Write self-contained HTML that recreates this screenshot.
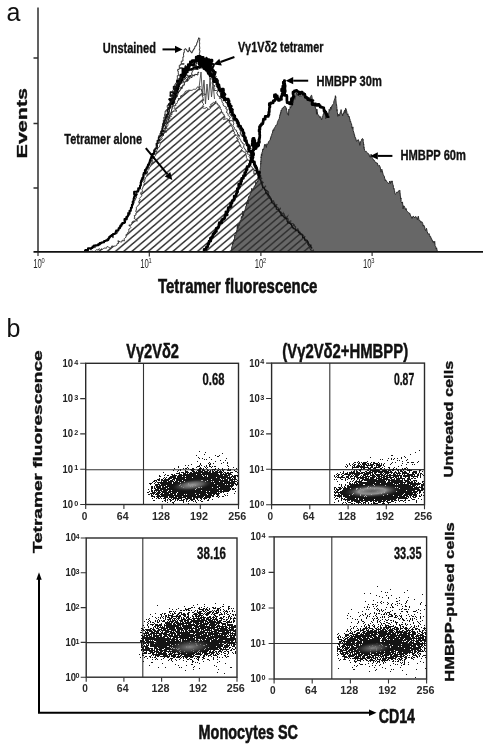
<!DOCTYPE html>
<html><head><meta charset="utf-8"><style>
html,body{margin:0;padding:0;background:#fff;}
svg{display:block;filter:blur(0.35px);}
text{font-family:"Liberation Sans",sans-serif;}
</style></head><body>
<svg width="489" height="747" viewBox="0 0 489 747" shape-rendering="auto">
<rect width="489" height="747" fill="#fff"/>
<defs>
<pattern id="hatch" patternUnits="userSpaceOnUse" width="8.2" height="7" x="0" y="0"><path d="M-2,8.71 L10.2,-1.71" stroke="#2e2e2e" stroke-width="1.4" fill="none"/><path d="M-10.2,8.71 L2,-1.71 M6.2,8.71 L18.4,-1.71" stroke="#2e2e2e" stroke-width="1.4" fill="none"/></pattern>
<clipPath id="hclip"><polygon points="91.0,251.5 92.2,251.2 93.6,251.5 94.7,251.4 95.7,250.4 96.7,249.6 98.1,250.1 99.0,248.6 100.5,249.7 101.5,248.8 102.8,249.3 103.8,248.3 105.0,247.9 106.3,248.4 107.2,246.4 108.6,247.2 110.0,248.1 111.2,247.8 111.8,245.9 113.3,246.3 114.5,246.0 115.8,245.9 116.8,245.3 117.3,243.5 118.6,243.5 117.9,240.7 120.5,241.9 122.0,241.9 122.1,240.2 124.4,241.0 124.1,238.8 125.0,237.9 126.1,237.2 126.0,235.8 126.1,234.4 127.8,234.0 127.7,232.5 128.6,231.6 128.8,230.4 128.8,229.1 130.2,228.4 130.9,227.4 128.8,225.0 131.4,225.0 131.8,223.8 131.8,222.6 132.4,221.5 134.2,220.9 137.5,220.8 133.9,218.2 135.0,217.3 134.1,215.7 136.1,215.0 135.7,213.7 136.5,212.7 135.7,211.2 136.2,210.1 136.5,208.9 136.1,207.6 137.3,206.6 137.8,205.5 139.1,204.7 139.3,203.5 138.8,202.0 139.0,200.8 140.3,200.0 139.3,198.5 140.2,197.5 141.4,196.5 141.8,195.4 140.7,193.9 140.7,192.6 142.4,191.8 142.4,190.6 141.9,189.2 142.8,188.2 142.9,186.9 143.8,185.9 143.8,184.7 144.4,183.6 143.6,182.1 145.0,181.3 144.7,179.9 145.4,178.9 145.5,177.7 146.5,176.7 146.8,175.6 147.4,174.5 146.8,173.0 147.5,172.0 147.7,170.7 148.7,169.8 149.3,168.8 149.0,167.4 150.5,166.7 150.7,165.4 151.2,164.3 151.4,163.1 153.0,162.5 152.8,161.1 152.4,159.6 153.0,158.5 154.5,157.9 154.3,156.5 155.6,155.7 155.6,154.4 155.9,153.2 157.0,152.4 156.5,150.9 157.2,149.9 157.6,148.8 158.2,147.7 159.5,146.9 159.7,145.7 160.1,144.5 160.2,143.3 159.4,141.7 160.3,140.8 161.1,139.8 162.3,138.9 161.7,137.4 162.5,136.4 163.5,135.5 163.0,134.0 164.2,133.2 164.4,132.0 164.7,130.8 165.4,129.8 165.5,128.6 165.3,127.2 167.2,126.6 167.8,125.6 168.0,124.3 167.5,122.9 168.5,121.9 169.2,120.9 168.3,119.3 170.1,118.7 169.3,117.1 171.3,116.6 170.4,114.9 172.2,114.3 171.3,112.7 172.3,111.8 173.3,110.9 177.0,111.1 174.0,108.6 174.7,107.5 173.4,105.7 176.0,105.6 175.4,103.9 177.0,103.5 177.4,102.3 177.4,100.9 178.7,100.3 178.2,98.5 180.3,98.5 180.6,97.2 180.7,95.8 182.0,95.4 183.1,94.7 183.7,93.6 184.8,93.1 185.1,91.6 186.2,91.0 187.4,90.8 188.5,90.2 189.8,90.2 191.1,90.4 192.3,90.2 193.3,89.4 194.5,89.3 195.8,89.2 196.7,88.3 197.5,86.8 199.0,87.4 200.2,86.2 199.0,90.0 200.8,88.9 201.9,89.8 201.2,91.1 203.2,92.1 201.4,93.4 205.8,94.3 201.8,95.8 203.0,96.9 202.9,98.2 203.5,99.3 203.7,100.5 202.4,101.8 202.5,103.0 203.8,104.1 202.9,105.4 203.7,106.6 202.5,107.8 203.7,108.3 204.5,108.4 205.7,108.2 206.3,107.2 207.2,108.1 208.1,108.9 209.5,109.4 210.4,108.1 209.5,106.6 211.2,105.8 210.7,104.4 212.0,104.0 212.5,103.0 213.4,102.4 214.5,102.7 215.9,100.9 215.8,102.9 217.4,103.2 217.3,104.8 219.0,105.0 219.3,106.3 220.5,107.1 219.8,108.7 221.3,109.4 221.5,110.6 221.5,112.0 222.9,112.5 222.8,114.1 224.2,114.6 224.2,116.1 225.2,116.8 223.4,119.6 226.7,118.7 228.1,119.2 228.5,120.4 229.8,121.0 229.0,122.8 230.8,123.3 231.3,124.3 231.8,125.4 231.7,126.8 233.0,127.5 232.6,129.0 233.8,129.9 233.2,131.4 234.8,132.1 233.9,133.7 235.4,134.4 236.5,135.2 239.1,135.2 236.2,138.0 237.9,138.5 238.3,139.7 237.5,141.4 239.1,141.9 239.3,143.2 240.0,144.2 240.7,145.2 240.5,146.7 241.9,147.3 242.5,148.4 240.8,150.5 243.0,150.8 243.4,151.9 245.3,152.3 245.7,153.5 246.0,154.7 246.4,155.8 246.3,157.3 246.9,158.3 247.2,159.5 248.7,160.1 249.2,161.2 250.3,161.9 249.6,163.7 250.3,164.7 250.8,165.8 251.8,166.6 252.2,167.8 253.4,168.5 253.6,169.9 255.2,170.0 255.8,171.3 256.8,171.9 258.0,172.2 258.5,173.2 259.3,174.0 260.6,174.7 261.5,175.6 261.5,176.9 262.3,177.9 261.5,179.6 262.7,180.3 262.9,181.6 263.2,182.9 264.2,183.8 264.8,184.8 266.0,185.4 266.4,186.6 266.7,187.7 268.0,188.4 267.8,189.7 267.7,191.0 269.4,191.7 270.1,192.8 269.7,194.2 266.6,196.4 270.3,196.5 271.2,197.5 270.1,199.2 271.7,199.7 272.8,200.3 274.2,200.4 274.7,201.7 275.1,203.2 276.7,203.0 277.3,204.3 277.9,205.1 280.1,205.1 279.5,206.8 281.0,207.3 281.0,208.7 281.0,210.1 282.4,210.7 284.2,211.1 283.7,212.6 284.3,213.8 285.1,214.7 286.2,215.2 289.5,212.8 287.9,216.9 289.5,217.1 289.9,218.3 289.8,219.8 290.9,220.5 292.3,221.1 292.0,222.7 292.3,224.0 294.2,224.0 294.0,225.9 296.1,225.4 295.6,227.6 297.0,228.0 298.4,228.4 299.3,229.3 299.5,230.6 300.2,231.6 300.7,232.7 301.3,233.7 303.3,233.8 303.1,235.4 304.0,236.2 305.6,236.2 305.6,237.9 305.8,239.4 307.4,239.5 307.5,241.1 308.6,241.7 309.4,242.6 309.9,243.8 311.4,244.0 311.7,245.4 312.1,246.5 312.9,247.3 313.6,248.3 314.0,249.5 314.1,250.7 315.3,251.5"/></clipPath>
</defs>
<polygon points="91.0,251.5 92.2,251.2 93.6,251.5 94.7,251.4 95.7,250.4 96.7,249.6 98.1,250.1 99.0,248.6 100.5,249.7 101.5,248.8 102.8,249.3 103.8,248.3 105.0,247.9 106.3,248.4 107.2,246.4 108.6,247.2 110.0,248.1 111.2,247.8 111.8,245.9 113.3,246.3 114.5,246.0 115.8,245.9 116.8,245.3 117.3,243.5 118.6,243.5 117.9,240.7 120.5,241.9 122.0,241.9 122.1,240.2 124.4,241.0 124.1,238.8 125.0,237.9 126.1,237.2 126.0,235.8 126.1,234.4 127.8,234.0 127.7,232.5 128.6,231.6 128.8,230.4 128.8,229.1 130.2,228.4 130.9,227.4 128.8,225.0 131.4,225.0 131.8,223.8 131.8,222.6 132.4,221.5 134.2,220.9 137.5,220.8 133.9,218.2 135.0,217.3 134.1,215.7 136.1,215.0 135.7,213.7 136.5,212.7 135.7,211.2 136.2,210.1 136.5,208.9 136.1,207.6 137.3,206.6 137.8,205.5 139.1,204.7 139.3,203.5 138.8,202.0 139.0,200.8 140.3,200.0 139.3,198.5 140.2,197.5 141.4,196.5 141.8,195.4 140.7,193.9 140.7,192.6 142.4,191.8 142.4,190.6 141.9,189.2 142.8,188.2 142.9,186.9 143.8,185.9 143.8,184.7 144.4,183.6 143.6,182.1 145.0,181.3 144.7,179.9 145.4,178.9 145.5,177.7 146.5,176.7 146.8,175.6 147.4,174.5 146.8,173.0 147.5,172.0 147.7,170.7 148.7,169.8 149.3,168.8 149.0,167.4 150.5,166.7 150.7,165.4 151.2,164.3 151.4,163.1 153.0,162.5 152.8,161.1 152.4,159.6 153.0,158.5 154.5,157.9 154.3,156.5 155.6,155.7 155.6,154.4 155.9,153.2 157.0,152.4 156.5,150.9 157.2,149.9 157.6,148.8 158.2,147.7 159.5,146.9 159.7,145.7 160.1,144.5 160.2,143.3 159.4,141.7 160.3,140.8 161.1,139.8 162.3,138.9 161.7,137.4 162.5,136.4 163.5,135.5 163.0,134.0 164.2,133.2 164.4,132.0 164.7,130.8 165.4,129.8 165.5,128.6 165.3,127.2 167.2,126.6 167.8,125.6 168.0,124.3 167.5,122.9 168.5,121.9 169.2,120.9 168.3,119.3 170.1,118.7 169.3,117.1 171.3,116.6 170.4,114.9 172.2,114.3 171.3,112.7 172.3,111.8 173.3,110.9 177.0,111.1 174.0,108.6 174.7,107.5 173.4,105.7 176.0,105.6 175.4,103.9 177.0,103.5 177.4,102.3 177.4,100.9 178.7,100.3 178.2,98.5 180.3,98.5 180.6,97.2 180.7,95.8 182.0,95.4 183.1,94.7 183.7,93.6 184.8,93.1 185.1,91.6 186.2,91.0 187.4,90.8 188.5,90.2 189.8,90.2 191.1,90.4 192.3,90.2 193.3,89.4 194.5,89.3 195.8,89.2 196.7,88.3 197.5,86.8 199.0,87.4 200.2,86.2 199.0,90.0 200.8,88.9 201.9,89.8 201.2,91.1 203.2,92.1 201.4,93.4 205.8,94.3 201.8,95.8 203.0,96.9 202.9,98.2 203.5,99.3 203.7,100.5 202.4,101.8 202.5,103.0 203.8,104.1 202.9,105.4 203.7,106.6 202.5,107.8 203.7,108.3 204.5,108.4 205.7,108.2 206.3,107.2 207.2,108.1 208.1,108.9 209.5,109.4 210.4,108.1 209.5,106.6 211.2,105.8 210.7,104.4 212.0,104.0 212.5,103.0 213.4,102.4 214.5,102.7 215.9,100.9 215.8,102.9 217.4,103.2 217.3,104.8 219.0,105.0 219.3,106.3 220.5,107.1 219.8,108.7 221.3,109.4 221.5,110.6 221.5,112.0 222.9,112.5 222.8,114.1 224.2,114.6 224.2,116.1 225.2,116.8 223.4,119.6 226.7,118.7 228.1,119.2 228.5,120.4 229.8,121.0 229.0,122.8 230.8,123.3 231.3,124.3 231.8,125.4 231.7,126.8 233.0,127.5 232.6,129.0 233.8,129.9 233.2,131.4 234.8,132.1 233.9,133.7 235.4,134.4 236.5,135.2 239.1,135.2 236.2,138.0 237.9,138.5 238.3,139.7 237.5,141.4 239.1,141.9 239.3,143.2 240.0,144.2 240.7,145.2 240.5,146.7 241.9,147.3 242.5,148.4 240.8,150.5 243.0,150.8 243.4,151.9 245.3,152.3 245.7,153.5 246.0,154.7 246.4,155.8 246.3,157.3 246.9,158.3 247.2,159.5 248.7,160.1 249.2,161.2 250.3,161.9 249.6,163.7 250.3,164.7 250.8,165.8 251.8,166.6 252.2,167.8 253.4,168.5 253.6,169.9 255.2,170.0 255.8,171.3 256.8,171.9 258.0,172.2 258.5,173.2 259.3,174.0 260.6,174.7 261.5,175.6 261.5,176.9 262.3,177.9 261.5,179.6 262.7,180.3 262.9,181.6 263.2,182.9 264.2,183.8 264.8,184.8 266.0,185.4 266.4,186.6 266.7,187.7 268.0,188.4 267.8,189.7 267.7,191.0 269.4,191.7 270.1,192.8 269.7,194.2 266.6,196.4 270.3,196.5 271.2,197.5 270.1,199.2 271.7,199.7 272.8,200.3 274.2,200.4 274.7,201.7 275.1,203.2 276.7,203.0 277.3,204.3 277.9,205.1 280.1,205.1 279.5,206.8 281.0,207.3 281.0,208.7 281.0,210.1 282.4,210.7 284.2,211.1 283.7,212.6 284.3,213.8 285.1,214.7 286.2,215.2 289.5,212.8 287.9,216.9 289.5,217.1 289.9,218.3 289.8,219.8 290.9,220.5 292.3,221.1 292.0,222.7 292.3,224.0 294.2,224.0 294.0,225.9 296.1,225.4 295.6,227.6 297.0,228.0 298.4,228.4 299.3,229.3 299.5,230.6 300.2,231.6 300.7,232.7 301.3,233.7 303.3,233.8 303.1,235.4 304.0,236.2 305.6,236.2 305.6,237.9 305.8,239.4 307.4,239.5 307.5,241.1 308.6,241.7 309.4,242.6 309.9,243.8 311.4,244.0 311.7,245.4 312.1,246.5 312.9,247.3 313.6,248.3 314.0,249.5 314.1,250.7 315.3,251.5" fill="#fff" stroke="#333" stroke-width="0.9"/>
<polygon points="91.0,251.5 92.2,251.2 93.6,251.5 94.7,251.4 95.7,250.4 96.7,249.6 98.1,250.1 99.0,248.6 100.5,249.7 101.5,248.8 102.8,249.3 103.8,248.3 105.0,247.9 106.3,248.4 107.2,246.4 108.6,247.2 110.0,248.1 111.2,247.8 111.8,245.9 113.3,246.3 114.5,246.0 115.8,245.9 116.8,245.3 117.3,243.5 118.6,243.5 117.9,240.7 120.5,241.9 122.0,241.9 122.1,240.2 124.4,241.0 124.1,238.8 125.0,237.9 126.1,237.2 126.0,235.8 126.1,234.4 127.8,234.0 127.7,232.5 128.6,231.6 128.8,230.4 128.8,229.1 130.2,228.4 130.9,227.4 128.8,225.0 131.4,225.0 131.8,223.8 131.8,222.6 132.4,221.5 134.2,220.9 137.5,220.8 133.9,218.2 135.0,217.3 134.1,215.7 136.1,215.0 135.7,213.7 136.5,212.7 135.7,211.2 136.2,210.1 136.5,208.9 136.1,207.6 137.3,206.6 137.8,205.5 139.1,204.7 139.3,203.5 138.8,202.0 139.0,200.8 140.3,200.0 139.3,198.5 140.2,197.5 141.4,196.5 141.8,195.4 140.7,193.9 140.7,192.6 142.4,191.8 142.4,190.6 141.9,189.2 142.8,188.2 142.9,186.9 143.8,185.9 143.8,184.7 144.4,183.6 143.6,182.1 145.0,181.3 144.7,179.9 145.4,178.9 145.5,177.7 146.5,176.7 146.8,175.6 147.4,174.5 146.8,173.0 147.5,172.0 147.7,170.7 148.7,169.8 149.3,168.8 149.0,167.4 150.5,166.7 150.7,165.4 151.2,164.3 151.4,163.1 153.0,162.5 152.8,161.1 152.4,159.6 153.0,158.5 154.5,157.9 154.3,156.5 155.6,155.7 155.6,154.4 155.9,153.2 157.0,152.4 156.5,150.9 157.2,149.9 157.6,148.8 158.2,147.7 159.5,146.9 159.7,145.7 160.1,144.5 160.2,143.3 159.4,141.7 160.3,140.8 161.1,139.8 162.3,138.9 161.7,137.4 162.5,136.4 163.5,135.5 163.0,134.0 164.2,133.2 164.4,132.0 164.7,130.8 165.4,129.8 165.5,128.6 165.3,127.2 167.2,126.6 167.8,125.6 168.0,124.3 167.5,122.9 168.5,121.9 169.2,120.9 168.3,119.3 170.1,118.7 169.3,117.1 171.3,116.6 170.4,114.9 172.2,114.3 171.3,112.7 172.3,111.8 173.3,110.9 177.0,111.1 174.0,108.6 174.7,107.5 173.4,105.7 176.0,105.6 175.4,103.9 177.0,103.5 177.4,102.3 177.4,100.9 178.7,100.3 178.2,98.5 180.3,98.5 180.6,97.2 180.7,95.8 182.0,95.4 183.1,94.7 183.7,93.6 184.8,93.1 185.1,91.6 186.2,91.0 187.4,90.8 188.5,90.2 189.8,90.2 191.1,90.4 192.3,90.2 193.3,89.4 194.5,89.3 195.8,89.2 196.7,88.3 197.5,86.8 199.0,87.4 200.2,86.2 199.0,90.0 200.8,88.9 201.9,89.8 201.2,91.1 203.2,92.1 201.4,93.4 205.8,94.3 201.8,95.8 203.0,96.9 202.9,98.2 203.5,99.3 203.7,100.5 202.4,101.8 202.5,103.0 203.8,104.1 202.9,105.4 203.7,106.6 202.5,107.8 203.7,108.3 204.5,108.4 205.7,108.2 206.3,107.2 207.2,108.1 208.1,108.9 209.5,109.4 210.4,108.1 209.5,106.6 211.2,105.8 210.7,104.4 212.0,104.0 212.5,103.0 213.4,102.4 214.5,102.7 215.9,100.9 215.8,102.9 217.4,103.2 217.3,104.8 219.0,105.0 219.3,106.3 220.5,107.1 219.8,108.7 221.3,109.4 221.5,110.6 221.5,112.0 222.9,112.5 222.8,114.1 224.2,114.6 224.2,116.1 225.2,116.8 223.4,119.6 226.7,118.7 228.1,119.2 228.5,120.4 229.8,121.0 229.0,122.8 230.8,123.3 231.3,124.3 231.8,125.4 231.7,126.8 233.0,127.5 232.6,129.0 233.8,129.9 233.2,131.4 234.8,132.1 233.9,133.7 235.4,134.4 236.5,135.2 239.1,135.2 236.2,138.0 237.9,138.5 238.3,139.7 237.5,141.4 239.1,141.9 239.3,143.2 240.0,144.2 240.7,145.2 240.5,146.7 241.9,147.3 242.5,148.4 240.8,150.5 243.0,150.8 243.4,151.9 245.3,152.3 245.7,153.5 246.0,154.7 246.4,155.8 246.3,157.3 246.9,158.3 247.2,159.5 248.7,160.1 249.2,161.2 250.3,161.9 249.6,163.7 250.3,164.7 250.8,165.8 251.8,166.6 252.2,167.8 253.4,168.5 253.6,169.9 255.2,170.0 255.8,171.3 256.8,171.9 258.0,172.2 258.5,173.2 259.3,174.0 260.6,174.7 261.5,175.6 261.5,176.9 262.3,177.9 261.5,179.6 262.7,180.3 262.9,181.6 263.2,182.9 264.2,183.8 264.8,184.8 266.0,185.4 266.4,186.6 266.7,187.7 268.0,188.4 267.8,189.7 267.7,191.0 269.4,191.7 270.1,192.8 269.7,194.2 266.6,196.4 270.3,196.5 271.2,197.5 270.1,199.2 271.7,199.7 272.8,200.3 274.2,200.4 274.7,201.7 275.1,203.2 276.7,203.0 277.3,204.3 277.9,205.1 280.1,205.1 279.5,206.8 281.0,207.3 281.0,208.7 281.0,210.1 282.4,210.7 284.2,211.1 283.7,212.6 284.3,213.8 285.1,214.7 286.2,215.2 289.5,212.8 287.9,216.9 289.5,217.1 289.9,218.3 289.8,219.8 290.9,220.5 292.3,221.1 292.0,222.7 292.3,224.0 294.2,224.0 294.0,225.9 296.1,225.4 295.6,227.6 297.0,228.0 298.4,228.4 299.3,229.3 299.5,230.6 300.2,231.6 300.7,232.7 301.3,233.7 303.3,233.8 303.1,235.4 304.0,236.2 305.6,236.2 305.6,237.9 305.8,239.4 307.4,239.5 307.5,241.1 308.6,241.7 309.4,242.6 309.9,243.8 311.4,244.0 311.7,245.4 312.1,246.5 312.9,247.3 313.6,248.3 314.0,249.5 314.1,250.7 315.3,251.5" fill="url(#hatch)"/>
<polygon points="231.0,251.5 231.2,251.3 231.5,249.6 231.7,248.1 231.9,246.5 232.2,246.3 232.4,245.4 232.6,243.6 232.9,242.6 233.1,243.9 233.3,242.1 233.6,240.1 233.8,239.7 234.2,240.0 234.5,238.9 234.8,235.0 235.1,235.7 235.4,235.0 235.8,234.5 236.1,232.1 236.4,232.3 236.7,230.7 237.0,231.2 237.3,224.7 237.7,228.8 238.1,228.4 238.4,225.9 238.8,224.1 239.2,225.6 239.5,222.6 239.9,223.3 240.3,220.7 240.6,221.0 241.0,219.9 241.4,216.4 241.7,217.7 242.1,218.0 242.5,215.8 242.9,211.1 243.2,216.1 243.6,213.4 244.0,213.3 244.4,211.0 244.7,211.0 245.0,210.5 245.3,208.8 245.6,207.8 245.8,206.2 246.1,206.2 246.4,206.0 246.7,203.0 246.9,203.8 247.2,201.7 247.5,202.1 247.8,199.9 248.0,204.0 248.3,198.3 248.7,196.6 249.2,196.9 249.6,195.9 250.0,195.0 250.5,193.6 250.9,192.1 251.3,192.2 251.8,188.3 252.3,190.5 252.8,189.5 253.3,188.1 253.8,188.2 254.4,185.9 254.9,185.5 255.4,185.6 255.9,181.7 256.4,183.7 257.0,182.6 257.5,181.0 257.8,181.7 258.0,180.1 258.2,179.3 258.4,176.8 258.6,177.1 258.8,179.0 259.0,174.4 259.3,175.0 259.5,172.7 259.7,172.8 259.9,170.3 260.1,169.5 260.3,167.6 260.4,167.6 260.5,167.1 260.6,166.8 260.6,165.8 260.7,163.4 260.8,164.0 260.8,161.0 260.9,161.6 261.0,159.0 261.0,158.6 261.1,156.8 261.2,157.6 261.2,156.6 261.4,153.9 261.7,155.9 262.1,152.3 262.4,152.0 262.8,149.0 263.1,149.1 263.4,150.0 264.0,147.8 264.6,144.4 265.1,145.6 265.7,144.4 266.3,147.5 266.9,143.8 267.4,144.4 268.0,143.5 268.6,141.7 269.2,140.8 269.7,140.5 270.2,140.1 270.5,137.9 270.8,138.0 271.1,136.1 271.4,135.6 271.7,135.0 272.1,133.5 272.5,133.0 272.9,130.2 273.3,129.6 273.7,130.8 274.2,128.1 274.8,127.4 275.3,126.6 275.8,125.3 276.4,124.9 276.8,124.9 277.1,124.6 277.4,122.4 277.7,121.5 278.0,120.7 278.3,120.3 278.6,119.6 279.0,119.1 279.3,118.4 279.6,116.6 279.9,114.8 280.2,115.0 280.5,112.6 280.8,113.2 281.1,110.3 281.5,110.9 281.8,109.5 282.2,108.2 283.1,108.1 284.0,106.6 284.9,106.1 285.8,106.9 286.0,107.7 286.3,109.6 286.5,108.6 286.7,110.8 287.0,111.7 287.2,112.9 287.5,114.2 287.7,113.9 288.1,114.6 288.5,115.3 288.8,109.0 289.2,109.5 289.5,109.3 289.9,108.6 290.2,106.5 290.7,107.6 291.3,106.2 291.9,105.9 292.5,103.5 293.1,103.0 293.4,101.6 293.8,98.3 294.2,98.3 294.5,98.8 294.9,99.3 295.2,96.7 295.6,97.0 296.1,92.8 297.1,94.8 298.1,95.1 299.1,96.2 300.1,95.8 301.1,95.9 302.1,95.7 303.1,95.3 304.0,96.0 305.0,97.4 305.9,96.0 306.7,97.9 307.4,97.5 308.1,97.2 308.8,100.8 309.4,97.6 310.0,98.8 310.6,96.6 311.2,95.4 311.6,95.2 311.9,96.3 312.1,97.6 312.4,101.9 312.7,101.8 312.9,102.4 313.2,103.1 313.4,102.5 313.9,104.3 314.3,106.0 314.7,104.9 315.2,107.6 315.5,107.4 315.8,109.3 316.2,109.5 316.5,114.2 316.8,109.0 317.2,111.5 317.6,114.0 318.0,115.0 318.5,115.1 318.9,115.7 319.8,117.6 320.7,116.6 321.6,119.9 322.5,117.7 322.8,115.8 323.0,115.7 323.3,114.0 323.5,113.6 323.8,112.5 324.0,111.1 324.2,111.3 324.5,110.6 324.7,110.6 325.0,111.9 325.2,114.7 325.5,113.8 325.7,118.8 326.0,117.7 326.2,114.2 326.6,117.1 327.0,117.1 327.5,114.3 327.9,113.5 328.3,114.7 328.8,113.2 329.2,109.3 329.7,110.9 330.1,109.5 330.6,107.1 331.0,109.4 331.5,106.4 331.9,106.6 332.4,104.8 332.8,104.5 333.3,104.4 333.7,103.4 333.9,101.2 334.2,100.5 334.4,99.8 334.7,98.7 334.9,98.5 335.2,97.4 335.4,95.7 335.6,97.9 335.7,96.5 335.8,98.2 335.9,100.6 336.0,100.5 336.1,101.6 336.2,102.7 336.3,103.6 336.4,105.2 336.6,104.9 336.7,106.0 336.8,106.7 336.9,108.5 337.0,110.6 337.1,109.6 337.2,112.1 337.4,112.4 337.8,116.4 338.2,115.2 338.7,114.3 339.1,116.0 339.4,114.4 339.8,113.7 340.1,113.9 340.4,111.9 340.8,111.9 341.1,109.6 341.4,112.9 341.7,113.7 342.0,114.0 342.3,113.8 342.6,115.9 343.0,114.8 343.3,114.3 343.7,112.6 344.0,111.7 344.4,111.0 344.8,110.1 345.1,113.2 345.5,108.4 345.8,108.3 346.1,109.1 346.4,110.2 346.7,111.1 347.1,114.2 347.4,114.9 347.9,113.8 348.4,116.9 348.9,116.0 349.3,117.0 349.6,118.8 349.9,118.8 350.2,121.6 350.6,121.1 350.9,122.5 351.2,123.5 351.5,123.7 351.8,125.8 352.1,128.2 352.4,127.4 352.6,128.4 352.9,126.9 353.1,130.5 353.4,131.0 353.6,132.4 353.9,132.4 354.1,133.5 354.3,135.0 354.6,134.9 354.8,137.1 355.1,137.1 355.6,138.0 356.5,141.3 357.3,140.9 358.2,139.6 359.0,141.3 359.8,145.4 360.6,141.5 361.3,140.6 362.0,138.8 362.7,138.7 363.0,139.2 363.1,139.1 363.2,141.5 363.4,142.1 363.5,143.1 363.6,144.6 363.7,144.0 363.8,145.3 364.0,148.2 364.1,147.5 364.2,148.4 364.3,149.0 364.7,150.4 365.4,151.7 366.1,151.2 366.8,152.5 367.5,153.1 368.3,153.6 369.0,154.2 369.7,156.9 370.4,157.5 371.1,154.2 371.8,156.9 372.5,158.3 373.2,159.7 373.9,159.8 374.7,161.3 375.4,162.0 376.1,163.1 376.8,162.8 377.4,163.1 378.0,165.5 378.6,166.2 379.2,165.2 379.8,166.2 380.4,168.1 381.0,172.2 381.4,170.5 381.8,169.2 382.2,170.5 382.5,172.0 382.9,173.3 383.2,174.8 383.6,175.2 383.9,176.0 384.3,176.3 384.6,178.2 385.0,179.0 385.3,180.8 385.7,179.9 386.2,180.6 386.9,181.9 387.6,182.5 388.3,183.5 389.0,183.5 389.7,181.0 390.4,183.6 391.1,180.9 391.8,182.4 392.2,180.9 392.4,182.4 392.7,183.8 392.9,184.7 393.2,185.1 393.4,187.3 393.7,188.6 393.9,188.1 394.1,188.9 394.4,190.7 394.6,190.8 394.9,193.7 395.2,194.3 396.0,193.7 396.8,192.1 397.7,192.5 398.5,190.9 399.3,190.5 399.8,190.0 399.9,190.8 400.0,193.4 400.1,193.2 400.3,196.0 400.4,196.1 400.5,197.1 400.6,198.9 400.7,198.4 400.9,198.7 401.0,197.9 401.1,201.8 401.3,202.0 401.9,203.1 402.5,201.9 403.1,208.9 403.7,205.7 404.3,206.2 404.9,207.7 405.5,209.7 406.1,208.5 406.7,210.9 407.3,211.5 407.9,211.9 408.5,212.6 409.1,213.3 409.7,213.1 410.3,215.1 411.2,216.6 412.1,218.5 413.0,216.2 413.9,216.6 414.8,218.0 415.7,216.4 416.6,217.3 417.4,219.7 418.3,216.2 419.1,220.5 419.9,220.3 420.8,222.5 421.4,221.6 421.9,222.7 422.3,222.3 422.8,223.7 423.2,226.2 423.7,225.0 424.1,225.8 424.6,226.9 425.0,229.1 425.5,230.6 425.9,229.7 426.5,228.3 427.1,231.4 427.7,233.0 428.4,234.3 429.0,233.6 429.6,235.2 430.2,237.0 430.7,236.6 431.1,238.6 431.6,238.6 432.0,240.7 432.5,240.3 432.9,242.2 433.4,241.3 433.8,242.8 434.3,243.3 434.7,241.3 435.1,245.7 435.5,246.2 435.9,247.6 436.3,249.1 436.6,247.8 437.0,250.0 437.4,251.5" fill="#676767" stroke="#2a2a2a" stroke-width="1"/>
<g clip-path="url(#hclip)"><polygon points="231.0,251.5 231.2,251.3 231.5,249.6 231.7,248.1 231.9,246.5 232.2,246.3 232.4,245.4 232.6,243.6 232.9,242.6 233.1,243.9 233.3,242.1 233.6,240.1 233.8,239.7 234.2,240.0 234.5,238.9 234.8,235.0 235.1,235.7 235.4,235.0 235.8,234.5 236.1,232.1 236.4,232.3 236.7,230.7 237.0,231.2 237.3,224.7 237.7,228.8 238.1,228.4 238.4,225.9 238.8,224.1 239.2,225.6 239.5,222.6 239.9,223.3 240.3,220.7 240.6,221.0 241.0,219.9 241.4,216.4 241.7,217.7 242.1,218.0 242.5,215.8 242.9,211.1 243.2,216.1 243.6,213.4 244.0,213.3 244.4,211.0 244.7,211.0 245.0,210.5 245.3,208.8 245.6,207.8 245.8,206.2 246.1,206.2 246.4,206.0 246.7,203.0 246.9,203.8 247.2,201.7 247.5,202.1 247.8,199.9 248.0,204.0 248.3,198.3 248.7,196.6 249.2,196.9 249.6,195.9 250.0,195.0 250.5,193.6 250.9,192.1 251.3,192.2 251.8,188.3 252.3,190.5 252.8,189.5 253.3,188.1 253.8,188.2 254.4,185.9 254.9,185.5 255.4,185.6 255.9,181.7 256.4,183.7 257.0,182.6 257.5,181.0 257.8,181.7 258.0,180.1 258.2,179.3 258.4,176.8 258.6,177.1 258.8,179.0 259.0,174.4 259.3,175.0 259.5,172.7 259.7,172.8 259.9,170.3 260.1,169.5 260.3,167.6 260.4,167.6 260.5,167.1 260.6,166.8 260.6,165.8 260.7,163.4 260.8,164.0 260.8,161.0 260.9,161.6 261.0,159.0 261.0,158.6 261.1,156.8 261.2,157.6 261.2,156.6 261.4,153.9 261.7,155.9 262.1,152.3 262.4,152.0 262.8,149.0 263.1,149.1 263.4,150.0 264.0,147.8 264.6,144.4 265.1,145.6 265.7,144.4 266.3,147.5 266.9,143.8 267.4,144.4 268.0,143.5 268.6,141.7 269.2,140.8 269.7,140.5 270.2,140.1 270.5,137.9 270.8,138.0 271.1,136.1 271.4,135.6 271.7,135.0 272.1,133.5 272.5,133.0 272.9,130.2 273.3,129.6 273.7,130.8 274.2,128.1 274.8,127.4 275.3,126.6 275.8,125.3 276.4,124.9 276.8,124.9 277.1,124.6 277.4,122.4 277.7,121.5 278.0,120.7 278.3,120.3 278.6,119.6 279.0,119.1 279.3,118.4 279.6,116.6 279.9,114.8 280.2,115.0 280.5,112.6 280.8,113.2 281.1,110.3 281.5,110.9 281.8,109.5 282.2,108.2 283.1,108.1 284.0,106.6 284.9,106.1 285.8,106.9 286.0,107.7 286.3,109.6 286.5,108.6 286.7,110.8 287.0,111.7 287.2,112.9 287.5,114.2 287.7,113.9 288.1,114.6 288.5,115.3 288.8,109.0 289.2,109.5 289.5,109.3 289.9,108.6 290.2,106.5 290.7,107.6 291.3,106.2 291.9,105.9 292.5,103.5 293.1,103.0 293.4,101.6 293.8,98.3 294.2,98.3 294.5,98.8 294.9,99.3 295.2,96.7 295.6,97.0 296.1,92.8 297.1,94.8 298.1,95.1 299.1,96.2 300.1,95.8 301.1,95.9 302.1,95.7 303.1,95.3 304.0,96.0 305.0,97.4 305.9,96.0 306.7,97.9 307.4,97.5 308.1,97.2 308.8,100.8 309.4,97.6 310.0,98.8 310.6,96.6 311.2,95.4 311.6,95.2 311.9,96.3 312.1,97.6 312.4,101.9 312.7,101.8 312.9,102.4 313.2,103.1 313.4,102.5 313.9,104.3 314.3,106.0 314.7,104.9 315.2,107.6 315.5,107.4 315.8,109.3 316.2,109.5 316.5,114.2 316.8,109.0 317.2,111.5 317.6,114.0 318.0,115.0 318.5,115.1 318.9,115.7 319.8,117.6 320.7,116.6 321.6,119.9 322.5,117.7 322.8,115.8 323.0,115.7 323.3,114.0 323.5,113.6 323.8,112.5 324.0,111.1 324.2,111.3 324.5,110.6 324.7,110.6 325.0,111.9 325.2,114.7 325.5,113.8 325.7,118.8 326.0,117.7 326.2,114.2 326.6,117.1 327.0,117.1 327.5,114.3 327.9,113.5 328.3,114.7 328.8,113.2 329.2,109.3 329.7,110.9 330.1,109.5 330.6,107.1 331.0,109.4 331.5,106.4 331.9,106.6 332.4,104.8 332.8,104.5 333.3,104.4 333.7,103.4 333.9,101.2 334.2,100.5 334.4,99.8 334.7,98.7 334.9,98.5 335.2,97.4 335.4,95.7 335.6,97.9 335.7,96.5 335.8,98.2 335.9,100.6 336.0,100.5 336.1,101.6 336.2,102.7 336.3,103.6 336.4,105.2 336.6,104.9 336.7,106.0 336.8,106.7 336.9,108.5 337.0,110.6 337.1,109.6 337.2,112.1 337.4,112.4 337.8,116.4 338.2,115.2 338.7,114.3 339.1,116.0 339.4,114.4 339.8,113.7 340.1,113.9 340.4,111.9 340.8,111.9 341.1,109.6 341.4,112.9 341.7,113.7 342.0,114.0 342.3,113.8 342.6,115.9 343.0,114.8 343.3,114.3 343.7,112.6 344.0,111.7 344.4,111.0 344.8,110.1 345.1,113.2 345.5,108.4 345.8,108.3 346.1,109.1 346.4,110.2 346.7,111.1 347.1,114.2 347.4,114.9 347.9,113.8 348.4,116.9 348.9,116.0 349.3,117.0 349.6,118.8 349.9,118.8 350.2,121.6 350.6,121.1 350.9,122.5 351.2,123.5 351.5,123.7 351.8,125.8 352.1,128.2 352.4,127.4 352.6,128.4 352.9,126.9 353.1,130.5 353.4,131.0 353.6,132.4 353.9,132.4 354.1,133.5 354.3,135.0 354.6,134.9 354.8,137.1 355.1,137.1 355.6,138.0 356.5,141.3 357.3,140.9 358.2,139.6 359.0,141.3 359.8,145.4 360.6,141.5 361.3,140.6 362.0,138.8 362.7,138.7 363.0,139.2 363.1,139.1 363.2,141.5 363.4,142.1 363.5,143.1 363.6,144.6 363.7,144.0 363.8,145.3 364.0,148.2 364.1,147.5 364.2,148.4 364.3,149.0 364.7,150.4 365.4,151.7 366.1,151.2 366.8,152.5 367.5,153.1 368.3,153.6 369.0,154.2 369.7,156.9 370.4,157.5 371.1,154.2 371.8,156.9 372.5,158.3 373.2,159.7 373.9,159.8 374.7,161.3 375.4,162.0 376.1,163.1 376.8,162.8 377.4,163.1 378.0,165.5 378.6,166.2 379.2,165.2 379.8,166.2 380.4,168.1 381.0,172.2 381.4,170.5 381.8,169.2 382.2,170.5 382.5,172.0 382.9,173.3 383.2,174.8 383.6,175.2 383.9,176.0 384.3,176.3 384.6,178.2 385.0,179.0 385.3,180.8 385.7,179.9 386.2,180.6 386.9,181.9 387.6,182.5 388.3,183.5 389.0,183.5 389.7,181.0 390.4,183.6 391.1,180.9 391.8,182.4 392.2,180.9 392.4,182.4 392.7,183.8 392.9,184.7 393.2,185.1 393.4,187.3 393.7,188.6 393.9,188.1 394.1,188.9 394.4,190.7 394.6,190.8 394.9,193.7 395.2,194.3 396.0,193.7 396.8,192.1 397.7,192.5 398.5,190.9 399.3,190.5 399.8,190.0 399.9,190.8 400.0,193.4 400.1,193.2 400.3,196.0 400.4,196.1 400.5,197.1 400.6,198.9 400.7,198.4 400.9,198.7 401.0,197.9 401.1,201.8 401.3,202.0 401.9,203.1 402.5,201.9 403.1,208.9 403.7,205.7 404.3,206.2 404.9,207.7 405.5,209.7 406.1,208.5 406.7,210.9 407.3,211.5 407.9,211.9 408.5,212.6 409.1,213.3 409.7,213.1 410.3,215.1 411.2,216.6 412.1,218.5 413.0,216.2 413.9,216.6 414.8,218.0 415.7,216.4 416.6,217.3 417.4,219.7 418.3,216.2 419.1,220.5 419.9,220.3 420.8,222.5 421.4,221.6 421.9,222.7 422.3,222.3 422.8,223.7 423.2,226.2 423.7,225.0 424.1,225.8 424.6,226.9 425.0,229.1 425.5,230.6 425.9,229.7 426.5,228.3 427.1,231.4 427.7,233.0 428.4,234.3 429.0,233.6 429.6,235.2 430.2,237.0 430.7,236.6 431.1,238.6 431.6,238.6 432.0,240.7 432.5,240.3 432.9,242.2 433.4,241.3 433.8,242.8 434.3,243.3 434.7,241.3 435.1,245.7 435.5,246.2 435.9,247.6 436.3,249.1 436.6,247.8 437.0,250.0 437.4,251.5" fill="url(#hatch)"/></g>
<polyline points="86.0,251.0 87.9,251.0 87.9,251.4 88.3,251.4 88.3,248.8 90.6,248.8 90.6,250.0 91.2,250.0 91.2,247.9 92.6,247.9 92.6,247.5 94.5,247.5 94.5,247.7 95.3,247.7 95.3,246.1 96.8,246.1 96.8,245.7 97.5,245.7 97.5,243.8 99.7,243.8 99.7,244.7 100.8,244.7 100.8,243.5 101.8,243.5 101.8,242.3 103.7,242.3 103.7,242.6 104.5,242.6 104.5,240.8 106.0,240.8 106.0,240.4 106.7,240.4 106.7,239.0 108.2,239.0 108.2,238.5 108.7,238.5 108.7,236.8 110.2,236.8 110.2,236.2 113.4,236.2 113.4,237.6 112.5,237.6 112.5,234.3 114.0,234.3 114.0,233.7 116.0,233.7 116.0,233.6 117.1,233.6 117.1,232.5 117.7,232.5 117.7,231.0 118.3,231.0 118.3,229.5 118.6,229.5 118.6,227.8 119.3,227.8 119.3,226.4 121.9,226.4 121.9,226.5 121.9,226.5 121.9,224.6 121.9,224.6 121.9,222.8 123.9,222.8 123.9,222.3 125.1,222.3 125.1,221.4 125.7,221.4 125.7,219.9 127.2,219.9 127.2,219.0 125.7,219.0 125.7,216.6 127.5,216.6 127.5,215.7 127.9,215.7 127.9,214.3 127.6,214.3 127.6,212.5 129.6,212.5 129.6,211.7 130.7,211.7 130.7,210.6 130.7,210.6 130.7,208.9 130.5,208.9 130.5,207.2 132.5,207.2 132.5,206.4 132.3,206.4 132.3,204.7 132.9,204.7 132.9,203.3 134.1,203.3 134.1,202.1 133.2,202.1 133.2,200.2 135.3,200.2 135.3,199.4 135.6,199.4 135.6,197.9 136.4,197.9 136.4,196.6 135.5,196.6 135.5,194.6 137.5,194.6 137.5,193.8 136.6,193.8 136.6,191.8 136.9,191.8 136.9,190.3 139.3,190.3 139.3,189.6 139.9,189.6 139.9,188.3 140.5,188.3 140.5,186.9 140.2,186.9 140.2,185.1 140.3,185.1 140.3,183.5 140.2,183.5 140.2,181.9 142.4,181.9 142.4,181.1 143.1,181.1 143.1,179.8 144.0,179.8 144.0,178.5 143.3,178.5 143.3,176.6 143.7,176.6 143.7,175.1 145.3,175.1 145.3,174.2 146.3,174.2 146.3,173.0 147.3,173.0 147.3,171.8 145.9,171.8 145.9,169.5 147.3,169.5 147.3,168.5 148.4,168.5 148.4,167.3 148.4,167.3 148.4,165.7 149.3,165.7 149.3,164.4 148.6,164.4 148.6,162.5 150.7,162.5 150.7,161.8 151.9,161.8 151.9,160.6 150.7,160.6 150.7,158.4 153.1,158.4 153.1,157.9 153.2,157.9 153.2,156.3 152.8,156.3 152.8,154.4 154.7,154.4 154.7,153.6 154.0,153.6 154.0,151.7 156.1,151.7 156.1,151.0 154.8,151.0 154.8,148.8 157.2,148.8 157.2,148.1 156.1,148.1 156.1,146.1 157.2,146.1 157.2,144.9 157.5,144.9 157.5,143.4 159.0,143.4 159.0,142.3 158.2,142.3 158.2,140.4 159.3,140.4 159.3,139.2 158.8,139.2 158.8,137.6 159.7,137.6 159.7,136.3 160.4,136.3 160.4,134.9 159.9,134.9 159.9,133.3 161.5,133.3 161.5,132.1 161.2,132.1 161.2,130.4 162.4,130.4 162.4,129.1 162.5,129.1 162.5,127.6 162.2,127.6 162.2,126.0 163.6,126.0 163.6,124.8 163.3,124.8 163.3,123.2 164.1,123.2 164.1,121.8 163.3,121.8 163.3,120.1 164.2,120.1 164.2,118.8 163.8,118.8 163.8,117.1 166.2,117.1 166.2,116.2 164.7,116.2 164.7,114.2 165.1,114.2 165.1,112.8 165.1,112.8 165.1,111.2 166.0,111.2 166.0,109.9 167.8,109.9 167.8,108.9 168.1,108.9 168.1,107.4 167.2,107.4 167.2,105.5 168.2,105.5 168.2,104.2 170.0,104.2 170.0,103.3 170.0,103.3 170.0,101.7 170.1,101.7 170.1,100.1 171.0,100.1 171.0,98.8 172.2,98.8 172.2,97.7 172.5,97.7 172.5,96.2 172.1,96.2 172.1,94.4 172.8,94.4 172.8,93.1 173.0,93.1 173.0,91.6 172.9,91.6 172.9,89.9 173.6,89.9 173.6,88.6 174.2,88.6 174.2,87.3 174.5,87.3 174.5,85.8 174.8,85.8 174.8,84.3 175.7,84.3 175.7,83.0 177.0,83.0 177.0,81.6 176.7,81.6 176.7,80.1 177.1,80.1 177.1,78.7 177.4,78.7 177.4,77.2 177.3,77.2 177.3,75.6 178.5,75.6 178.5,74.4 178.3,74.4 178.3,72.8 178.3,72.8 178.3,71.2 177.7,71.2 177.7,69.4 179.2,69.4 179.2,68.3 182.4,68.3 182.4,67.8 179.3,67.8 179.3,65.2 180.7,65.2 180.7,64.1 184.2,64.1 184.2,63.8 181.3,63.8 181.3,61.1 183.0,61.1 183.0,60.1 182.9,60.1 182.9,58.5 182.9,58.5 182.9,56.9 183.7,56.9 183.7,55.5 183.5,55.5 183.5,54.0 183.7,54.0 183.7,52.5 184.3,52.5 184.3,51.0 184.2,51.0 184.2,49.5 184.9,49.5 184.9,48.8 186.0,48.8 186.0,49.7 186.8,49.7 186.8,51.0 187.6,51.0 187.6,51.8 188.5,51.8 188.5,50.7 189.1,50.7 189.1,47.6 189.6,47.6 189.6,50.8 190.6,50.8 190.6,51.9 191.4,51.9 191.4,52.9 192.2,52.9 192.2,51.5 192.8,51.5 192.8,50.2 193.6,50.2 193.6,48.9 194.6,48.9 194.6,47.7 194.9,47.7 194.9,46.2 196.0,46.2 196.0,45.0 196.6,45.0 196.6,43.6 197.0,43.6 197.0,42.1 197.6,42.1 197.6,40.8 198.0,40.8 198.0,39.3 198.5,39.3 198.5,37.9 199.0,37.9 199.0,38.3 199.8,38.3 199.8,39.7 199.6,39.7 199.6,41.2 199.3,41.2 199.3,42.7 199.7,42.7 199.7,44.3 199.5,44.3 199.5,45.8 199.6,45.8 199.6,47.3 199.8,47.3 199.8,48.8 199.4,48.8 199.4,50.3 199.9,50.3 199.9,51.8 199.7,51.8 199.7,53.3 199.3,53.3 199.3,54.8 200.0,54.8 200.0,56.1 200.7,56.1 200.7,57.5 201.6,57.5 201.6,58.7 202.5,58.7 202.5,60.5 204.1,60.5 204.1,59.7 205.1,59.7 205.1,58.2 205.9,58.2 205.9,59.0 208.1,59.0 208.1,59.1 207.9,59.1 207.9,61.0 208.9,61.0 208.9,62.2 211.3,62.2 211.3,62.5 211.0,62.5 211.0,64.4 211.5,64.4 211.5,65.8 211.6,65.8 211.6,67.6 212.6,67.6 212.6,68.8 212.1,68.8 212.1,70.6 213.1,70.6 213.1,71.8 213.0,71.8 213.0,73.4 213.9,73.4 213.9,74.7 214.7,74.7 214.7,76.0 216.1,76.0 216.1,77.1 215.5,77.1 215.5,79.0 217.4,79.0 217.4,79.8 218.4,79.8 218.4,81.0 216.9,81.0 216.9,83.3 218.5,83.3 218.5,84.2 218.6,84.2 218.6,85.9 219.9,85.9 219.9,86.9 220.4,86.9 220.4,88.4 222.4,88.4 222.4,89.1 222.7,89.1 222.7,90.6 220.0,90.6 220.0,93.2 221.2,93.2 221.2,94.4 221.5,94.4 221.5,95.9 222.8,95.9 222.8,97.0 225.2,97.0 225.2,97.8 224.8,97.8 224.8,99.5 226.3,99.5 226.3,100.6 225.5,100.6 225.5,102.5 227.1,102.5 227.1,103.5 228.1,103.5 228.1,104.7 228.9,104.7 228.9,106.0 229.1,106.0 229.1,107.5 229.7,107.5 229.7,108.9 229.5,108.9 229.5,110.7 230.3,110.7 230.3,112.0 229.7,112.0 229.7,113.9 230.3,113.9 230.3,115.3 231.4,115.3 231.4,116.4 232.3,116.4 232.3,117.6 232.6,117.6 232.6,119.2 233.1,119.2 233.1,120.7 235.9,120.7 235.9,120.9 236.3,120.9 236.3,122.4 236.4,122.4 236.4,124.0 237.7,124.0 237.7,125.1 237.2,125.1 237.2,127.0 238.7,127.0 238.7,128.0 239.3,128.0 239.3,129.3 240.0,129.3 240.0,130.7 241.1,130.7 241.1,131.8 240.3,131.8 240.3,133.9 241.1,133.9 241.1,135.1 241.9,135.1 241.9,136.4 243.9,136.4 243.9,137.1 243.7,137.1 243.7,138.9 243.8,138.9 243.8,140.6 245.7,140.6 245.7,141.3 245.8,141.3 245.8,143.0 247.2,143.0 247.2,144.0 247.7,144.0 247.7,145.4 248.0,145.4 248.0,146.9 248.1,146.9 248.1,148.5 251.2,148.5 251.2,148.8 248.2,148.8 248.2,151.7 250.1,151.7 250.1,152.6 251.4,152.6 251.4,153.7 250.0,153.7 250.0,155.9 252.4,155.9 252.4,156.5 252.9,156.5 252.9,158.0 251.4,158.0 251.4,160.2 252.4,160.2 252.4,161.4 254.0,161.4 254.0,162.4 255.1,162.4 255.1,163.6 255.0,163.6 255.0,165.2 255.7,165.2 255.7,166.6 255.0,166.6 255.0,168.5 256.6,168.5 256.6,169.5 258.0,169.5 258.0,170.5 253.9,170.5 253.9,173.9 257.8,173.9 257.8,173.8 259.6,173.8 259.6,174.7 260.2,174.7 260.2,176.1 260.0,176.1 260.0,177.9 261.9,177.9 261.9,178.7 260.7,178.7 260.7,180.8 261.3,180.8 261.3,182.2 263.3,182.2 263.3,182.9 262.2,182.9 262.2,185.1 262.9,185.1 262.9,186.5 263.3,186.5 263.3,188.0 264.5,188.0 264.5,189.0 265.1,189.0 265.1,190.4 267.0,190.4 267.0,191.1 268.0,191.1 268.0,192.3 268.7,192.3 268.7,193.6 267.4,193.6 267.4,196.1 268.9,196.1 268.9,197.0 269.0,197.0 269.0,198.6 271.1,198.6 271.1,199.1 271.0,199.1 271.0,201.0 273.3,201.0 273.3,201.3 273.9,201.3 273.9,202.7 274.6,202.7 274.6,203.9 275.1,203.9 275.1,205.5 276.0,205.5 276.0,206.7 277.1,206.7 277.1,207.7 278.3,207.7 278.3,208.7 279.0,208.7 279.0,210.1 279.2,210.1 279.2,211.9 281.2,211.9 281.2,212.2 281.4,212.2 281.4,214.0 284.0,214.0 284.0,213.8 284.3,213.8 284.3,215.5 285.0,215.5 285.0,216.9 285.8,216.9 285.8,218.1 287.5,218.1 287.5,218.6 288.2,218.6 288.2,220.0 288.2,220.0 288.2,222.1 289.7,222.1 289.7,222.7 290.9,222.7 290.9,223.7 292.9,223.7 292.9,224.0 293.9,224.0 293.9,225.1 294.6,225.1 294.6,226.5 295.7,226.5 295.7,227.5 295.0,227.5 295.0,230.1 298.0,230.1 298.0,229.6 298.2,229.6 298.2,231.3 299.8,231.3 299.8,231.9 299.7,231.9 299.7,234.0 301.8,234.0 301.8,234.2 302.8,234.2 302.8,235.4 303.7,235.4 303.7,236.5 304.3,236.5 304.3,238.0 304.7,238.0 304.7,239.6 305.3,239.6 305.3,241.2 307.3,241.2 307.3,241.5 308.1,241.5 308.1,242.8 307.6,242.8 307.6,244.8 308.5,244.8 308.5,246.0 310.7,246.0 310.7,246.6 309.8,246.6 309.8,248.8 310.5,248.8 310.5,250.1 312.0,250.1 312.0,251.0" fill="none" stroke="#222" stroke-width="0.9"/>
<polyline points="160.0,140.0 160.4,138.9 161.1,137.8 160.2,136.2 160.9,135.2 163.1,134.7 161.6,132.8 162.3,131.8 166.7,131.9 164.0,129.8 163.7,128.5 167.3,128.3 165.1,126.4 164.6,124.9 164.6,123.7 166.4,123.0 166.5,121.8 166.5,120.5 167.6,119.6 167.4,118.2 168.8,117.4 167.4,115.7 168.5,114.8 168.8,113.6 168.8,112.3 169.7,111.3 169.1,109.9 168.0,108.4 171.2,107.9 169.7,106.3 170.8,105.4 171.6,104.3 171.5,103.0 172.7,102.1 171.9,100.6 171.6,99.3 173.1,98.4 169.6,96.1 176.8,97.3 173.2,94.6 173.3,93.4 174.1,92.4 174.9,91.4 175.7,90.4 177.2,89.8 177.3,88.5 177.1,87.0 176.8,85.7 177.4,84.8 179.6,84.0 179.0,82.6 179.3,81.4 178.0,80.0 178.2,78.8 180.3,77.9 183.6,77.3 179.5,75.2 180.5,75.7 181.2,76.9 181.1,78.1 181.6,79.3 179.8,80.7 180.8,81.8 181.7,82.9 180.4,84.4 180.8,84.0 180.9,83.0 182.7,82.7 183.9,82.0 182.7,80.0 184.9,79.6 183.7,78.0 183.8,76.8 183.9,75.6 184.9,74.5 186.2,73.6 185.9,72.3 185.3,73.0 186.9,74.0 186.8,75.3 189.5,76.2 185.4,77.8 185.6,79.0 187.2,80.1 187.1,81.3 186.9,81.2 188.3,80.7 187.3,78.9 187.9,77.8 189.2,77.1 189.4,75.8 191.2,75.4 191.7,74.3 191.7,72.9 192.5,71.9 191.8,70.2 193.8,70.0 194.8,69.3 194.0,67.2 195.7,67.0 196.3,65.3 197.3,66.7 197.5,69.2 199.6,68.5 200.2,66.9 199.2,65.1 200.5,64.2 201.9,64.1 200.0,66.6 203.1,66.4 203.5,67.6 203.8,68.8 203.9,67.5 205.4,69.3 205.4,68.0 205.0,66.2 206.1,66.4 207.5,67.2 206.6,68.8 207.9,69.6 208.7,70.6 208.9,71.9 208.2,73.3 208.3,74.6 209.3,75.6 209.9,76.7 209.8,77.9 210.6,78.8 210.2,79.3 210.9,78.7 211.8,79.0 213.2,78.9 213.5,80.1 212.7,81.5 212.1,82.9 212.5,84.1 213.3,85.1 215.1,85.8 214.0,87.6 214.8,88.5 213.7,90.4 216.3,90.5 217.8,91.1 216.7,93.0 217.4,94.0 217.8,95.2 218.4,96.2 220.3,96.6 219.4,98.4 221.3,98.8 221.9,99.9 221.9,101.2 222.2,102.4 223.2,103.3 223.1,104.7 223.6,105.8 224.9,106.5 226.4,107.1 225.8,108.8 227.3,109.4 227.0,110.9 226.4,112.5 227.8,113.2 228.1,114.4 228.3,115.6 229.2,116.5 230.3,117.3 229.3,119.2 228.5,120.9 231.8,120.6 233.2,121.3 233.5,122.5 233.8,123.7 232.9,125.5 233.5,126.6 234.4,127.5 234.3,128.8 235.2,129.8 236.7,130.4 236.5,131.8 237.7,132.6 237.4,134.1 238.7,134.8 239.7,135.6 238.7,137.5 239.7,138.4 240.1,139.5 241.0,140.4 241.1,141.7 242.4,142.4 242.7,143.7 244.3,144.2 243.8,145.8 243.7,147.2 244.5,148.1 244.8,149.3 246.1,150.1 245.8,151.6 248.0,151.8 246.9,153.7 248.5,154.3 249.6,155.1 249.0,156.7 249.9,157.6 250.5,158.7 250.2,160.2 249.6,161.8 252.0,162.0" fill="none" stroke="#222" stroke-width="0.9"/>
<polyline points="164.0,126.0 164.4,126.0 164.4,123.4 164.9,123.4 164.9,124.0 165.3,124.0 165.3,122.1 165.8,122.1 165.8,121.5 166.2,121.5 166.2,118.3 166.6,118.3 166.6,117.1 167.1,117.1 167.1,116.2 167.5,116.2 167.5,117.4 167.9,117.4 167.9,114.1 168.3,114.1 168.3,113.7 168.7,113.7 168.7,113.6 169.0,113.6 169.0,111.5 169.4,111.5 169.4,108.7 169.8,108.7 169.8,108.1 170.2,108.1 170.2,105.8 170.6,105.8 170.6,105.1 171.1,105.1 171.1,103.9 171.5,103.9 171.5,101.8 172.0,101.8 172.0,103.0 172.5,103.0 172.5,101.9 172.9,101.9 172.9,99.6 173.4,99.6 173.4,98.7 173.9,98.7 173.9,97.3 174.3,97.3 174.3,96.2 174.8,96.2 174.8,96.0 175.3,96.0 175.3,93.5 175.7,93.5 175.7,87.2 176.2,87.2 176.2,91.3 176.7,91.3 176.7,90.1 177.1,90.1 177.1,89.3 177.4,89.3 177.4,87.5 177.8,87.5 177.8,85.2 178.2,85.2 178.2,83.0 178.6,83.0 178.6,83.0 179.0,83.0 179.0,82.3 179.6,82.3 179.6,81.4 180.1,81.4 180.1,79.9 180.6,79.9 180.6,78.5 181.1,78.5 181.1,79.8 181.7,79.8 181.7,75.0 182.3,75.0 182.3,77.6 182.9,77.6 182.9,73.2 183.6,73.2 183.6,70.9 184.3,70.9 184.3,75.5 185.0,75.5 185.0,65.7 185.9,65.7 185.9,72.9 186.9,72.9 186.9,70.6 187.8,70.6 187.8,66.3 188.8,66.3 188.8,65.8 190.0,65.8 190.0,65.2 191.3,65.2 191.3,62.8 192.7,62.8 192.7,64.6 193.8,64.6 193.8,65.2 194.9,65.2 194.9,65.4 195.9,65.4 195.9,63.7 197.0,63.7 197.0,63.0" fill="none" stroke="#1a1a1a" stroke-width="1.0"/>
<polyline points="165.0,128.0 165.4,128.0 165.4,127.0 165.9,127.0 165.9,125.1 166.3,125.1 166.3,123.7 166.8,123.7 166.8,123.5 167.2,123.5 167.2,123.1 167.6,123.1 167.6,121.8 168.1,121.8 168.1,119.7 168.5,119.7 168.5,118.9 169.0,118.9 169.0,116.5 169.4,116.5 169.4,114.9 169.9,114.9 169.9,114.3 170.3,114.3 170.3,113.2 170.7,113.2 170.7,112.9 171.2,112.9 171.2,111.6 171.6,111.6 171.6,109.3 172.1,109.3 172.1,107.6 172.6,107.6 172.6,105.6 173.1,105.6 173.1,104.0 173.6,104.0 173.6,101.1 174.2,101.1 174.2,103.3 174.7,103.3 174.7,99.5 175.2,99.5 175.2,99.0 175.7,99.0 175.7,96.5 176.3,96.5 176.3,95.6 176.8,95.6 176.8,96.6 177.3,96.6 177.3,94.6 177.9,94.6 177.9,93.0 178.4,93.0 178.4,92.1 179.0,92.1 179.0,91.4 179.6,91.4 179.6,90.4 180.2,90.4 180.2,89.8 180.8,89.8 180.8,87.0 181.5,87.0 181.5,88.5 182.2,88.5 182.2,86.6 182.8,86.6 182.8,85.0 183.5,85.0 183.5,85.2 184.3,85.2 184.3,82.4 185.1,82.4 185.1,81.0 185.9,81.0 185.9,81.3 186.7,81.3 186.7,80.4 187.6,80.4 187.6,79.2 188.7,79.2 188.7,78.8 189.8,78.8 189.8,75.8 190.8,75.8 190.8,77.4 192.1,77.4 192.1,75.0 193.4,75.0 193.4,75.8 194.7,75.8 194.7,74.4 195.8,74.4 195.8,74.5 196.9,74.5 196.9,74.9 197.9,74.9 197.9,72.3 199.0,72.3 199.0,72.0" fill="none" stroke="#1a1a1a" stroke-width="1.0"/>
<polygon points="197.0,57.0 198.2,57.4 199.5,56.4 200.7,57.5 201.8,58.1 202.9,57.9 203.9,58.8 205.0,59.6 206.2,59.1 207.4,59.3 208.6,59.5 209.9,59.6 210.1,59.9 210.2,61.2 210.3,62.7 210.4,64.6 210.5,65.7 210.7,65.6 210.8,68.8 210.9,68.2 211.0,67.9 211.5,71.3 211.9,72.7 212.4,74.2 212.9,75.2 213.4,75.4 212.7,77.0 211.6,77.7 210.6,77.2 209.7,77.0 209.1,77.0 208.4,74.8 207.8,74.8 207.1,74.0 206.3,71.7 205.5,71.6 204.6,70.3 203.7,70.0 202.8,69.4 202.0,67.7 201.1,66.8 200.1,66.0 199.0,66.2 198.0,65.0" fill="#000"/>
<polyline points="172.0,104.0 172.5,104.0 172.5,102.6 173.0,102.6 173.0,102.2 173.4,102.2 173.4,100.6 173.9,100.6 173.9,98.1 174.4,98.1 174.4,98.6 174.9,98.6 174.9,96.9 175.3,96.9 175.3,95.7 175.8,95.7 175.8,93.1 176.3,93.1 176.3,92.5 176.8,92.5 176.8,91.0 177.2,91.0 177.2,91.8 177.7,91.8 177.7,89.0 178.2,89.0 178.2,88.1 178.6,88.1 178.6,86.1 179.0,86.1 179.0,84.3 179.5,84.3 179.5,83.7 179.9,83.7 179.9,81.4 180.5,81.4 180.5,81.8 181.2,81.8 181.2,80.2 181.9,80.2 181.9,79.3 182.6,79.3 182.6,77.3 183.4,77.3 183.4,77.4 184.2,77.4 184.2,76.2 185.0,76.2 185.0,74.9 185.8,74.9 185.8,72.6 186.8,72.6 186.8,72.2 187.7,72.2 187.7,70.4 188.7,70.4 188.7,69.1 189.8,69.1 189.8,69.9 190.9,69.9 190.9,69.2 192.0,69.2 192.0,68.9 193.3,68.9 193.3,67.3 194.7,67.3 194.7,67.1 196.0,67.1 196.0,68.8 197.3,68.8 197.3,66.8 198.6,66.8 198.6,67.1 199.7,67.1 199.7,67.5 200.9,67.5 200.9,66.2 202.0,66.2 202.0,66.0" fill="none" stroke="#000" stroke-width="1.8"/>
<polyline points="199.0,88.0 201.0,72.0 202.5,95.0 204.0,80.0 205.5,104.0 207.0,84.0 208.5,100.0 210.0,78.0 211.5,97.0 213.0,83.0 214.5,99.0" fill="none" stroke="#444" stroke-width="0.9"/>
<polyline points="169.0,108.2 169.7,107.2 170.5,106.2 169.0,104.3 171.1,103.8 172.6,103.1 171.3,101.3 169.3,99.2 173.8,99.6 173.4,98.2 174.6,97.3 174.2,95.9 175.6,95.1 173.7,93.1 176.0,92.7 176.0,91.3 174.9,89.7 175.2,88.5 177.9,88.1 176.4,86.4 177.1,85.3 178.1,84.4 177.9,83.0 177.1,81.3 178.3,80.6 182.0,80.8 180.7,79.0 180.8,77.6 180.7,76.3 180.8,74.8 183.0,74.9 183.6,73.8 184.2,72.8 184.4,71.4 185.3,70.7 185.9,69.5 185.7,67.3 187.3,67.4 189.2,67.8 189.6,66.1 190.3,64.9 191.4,64.9 193.8,65.4 194.0,64.0 194.4,62.8 193.8,60.7 196.5,61.5 196.1,59.3 197.8,59.9 198.5,57.7 200.1,59.4 201.6,60.2 202.2,59.0 204.2,58.8 203.3,60.6 204.6,61.3 201.3,65.4 205.5,61.6 206.1,61.3 206.5,57.8 208.7,64.3 210.1,62.1 211.1,63.1 211.9,63.6 213.8,64.4 213.5,65.7 212.9,66.9 212.2,68.2 211.9,69.4 212.5,70.6 213.5,71.7 213.8,72.6 215.6,72.1 215.0,74.2 212.4,77.0 214.2,77.0 214.6,78.2 216.9,79.2 214.9,80.6 217.4,81.3 217.5,82.2 216.4,84.1 218.1,84.7 217.2,86.5 218.2,87.4 219.1,88.3 219.9,89.2 219.8,90.8 220.8,91.6 223.5,90.9 222.1,93.8 224.3,93.5 225.3,94.3 224.1,96.2 224.4,97.4 225.3,98.3 224.0,100.1 228.4,99.5 228.3,100.8 227.6,102.8 227.7,104.0 230.3,104.0 229.2,105.7 231.6,106.2 230.0,108.0 231.6,108.7 232.8,109.6 231.9,111.2" fill="none" stroke="#000" stroke-width="2.2" stroke-linejoin="round"/>
<polyline points="84.0,251.0 85.3,251.0 85.3,250.0 87.1,250.0 87.1,250.1 88.0,250.1 88.0,248.2 89.8,248.2 89.8,248.3 91.4,248.3 91.4,247.9 92.5,247.9 92.5,246.4 93.9,246.4 93.9,245.6 95.5,245.6 95.5,245.3 97.3,245.3 97.3,245.2 98.6,245.2 98.6,244.3 99.7,244.3 99.7,242.9 101.4,242.9 101.4,242.6 103.0,242.6 103.0,242.2 104.1,242.2 104.1,241.0 105.7,241.0 105.7,240.4 107.4,240.4 107.4,240.0 108.3,240.0 108.3,238.5 109.3,238.5 109.3,237.1 110.3,237.1 110.3,235.9 111.6,235.9 111.6,235.0 113.0,235.0 113.0,234.1 114.6,234.1 114.6,233.4 115.6,233.4 115.6,232.1 116.1,232.1 116.1,230.4 118.1,230.4 118.1,230.0 118.6,230.0 118.6,228.3 120.0,228.3 120.0,227.4 120.3,227.4 120.3,225.5 121.3,225.5 121.3,224.3 122.4,224.3 122.4,223.1 124.4,223.1 124.4,222.6 125.0,222.6 125.0,221.0 124.5,221.0 124.5,218.9 126.5,218.9 126.5,218.2 126.9,218.2 126.9,216.5 127.9,216.5 127.9,215.2 128.6,215.2 128.6,213.8 129.6,213.8 129.6,212.5 129.5,212.5 129.5,210.7 130.8,210.7 130.8,209.5 130.9,209.5 130.9,207.8 131.9,207.8 131.9,206.4 131.9,206.4 131.9,204.7 132.8,204.7 132.8,203.3 132.7,203.3 132.7,201.6 133.6,201.6 133.6,200.2 133.6,200.2 133.6,198.5 134.0,198.5 134.0,196.9 134.5,196.9 134.5,195.4 136.2,195.4 136.2,194.3 134.1,194.3 134.1,191.8 137.6,191.8 137.6,191.4 138.2,191.4 138.2,190.0 138.2,190.0 138.2,188.2 139.9,188.2 139.9,187.2 140.0,187.2 140.0,185.4 140.9,185.4 140.9,184.1 140.9,184.1 140.9,182.3 141.1,182.3 141.1,180.7 141.7,180.7 141.7,179.2 142.3,179.2 142.3,177.7 143.5,177.7 143.5,176.4 143.3,176.4 143.3,174.6 143.7,174.6 143.7,173.1 145.6,173.1 145.6,172.1 144.9,172.1 144.9,170.1 146.1,170.1 146.1,168.8 146.7,168.8 146.7,167.3 147.6,167.3 147.6,165.9 148.0,165.9 148.0,164.4 149.3,164.4 149.3,163.2 149.6,163.2 149.6,161.6 149.9,161.6 149.9,159.9 150.6,159.9 150.6,158.5 151.1,158.5 151.1,156.9 152.6,156.9 152.6,155.9 152.2,155.9 152.2,153.9 153.7,153.9 153.7,152.9 154.2,152.9 154.2,151.3 154.2,151.3 154.2,149.5" fill="none" stroke="#000" stroke-width="2.0" stroke-linejoin="round"/>
<polyline points="154.2,149.5 155.4,149.5 155.4,148.3 157.0,148.3 157.0,147.2 157.2,147.2 157.2,145.6 156.4,145.6 156.4,143.6 157.4,143.6 157.4,142.2 157.4,142.2 157.4,140.5 159.3,140.5 159.3,139.5 158.6,139.5 158.6,137.5 159.0,137.5 159.0,136.0 161.1,136.0 161.1,135.0 163.1,135.0 163.1,133.9 161.0,133.9 161.0,131.6 163.3,131.6 163.3,130.6 162.1,130.6 162.1,128.5 162.6,128.5 162.6,127.0 163.4,127.0 163.4,125.6 162.9,125.6 162.9,123.7 163.6,123.7 163.6,122.3 164.2,122.3 164.2,120.8 165.1,120.8 165.1,119.3 165.3,119.3 165.3,117.7 166.3,117.7 166.3,116.4 166.2,116.4 166.2,114.6 167.8,114.6 167.8,113.5 168.4,113.5 168.4,112.0 167.4,112.0 167.4,109.9 168.1,109.9 168.1,108.5 169.2,108.5 169.2,107.2 170.1,107.2 170.1,105.8 169.5,105.8 169.5,103.8 170.3,103.8 170.3,102.4 171.3,102.4 171.3,101.0 172.5,101.0 172.5,99.8 173.9,99.8 173.9,98.6 174.3,98.6 174.3,97.0 174.7,97.0 174.7,95.4 170.4,95.4 170.4,92.1 176.4,92.1 176.4,92.7 175.7,92.7 175.7,90.7 174.9,90.7 174.9,88.7 173.6,88.7 173.6,86.6 177.3,86.6 177.3,86.1 176.9,86.1 176.9,84.3 177.7,84.3 177.7,82.8 179.5,82.8 179.5,81.8 180.1,81.8 180.1,80.3 179.8,80.3 179.8,78.5 181.3,78.5 181.3,77.4 180.6,77.4 180.6,75.3" fill="none" stroke="#111" stroke-width="1.6" stroke-linejoin="round"/>
<polyline points="180.6,75.3 183.1,75.3 183.1,74.8 182.8,74.8 182.8,72.9 184.8,72.9 184.8,72.3 182.9,72.3 182.9,69.0 186.3,69.0 186.3,69.8 186.7,69.8 186.7,67.9 188.3,67.9 188.3,67.3 188.2,67.3 188.2,64.7 190.3,64.7 190.3,64.8 190.3,64.8 190.3,61.8 191.8,61.8 191.8,61.9 192.3,61.9 192.3,60.5 196.0,60.5 196.0,61.3 196.3,61.3 196.3,59.5 196.2,59.5 196.2,57.0 197.9,57.0 197.9,56.3 199.8,56.3 199.8,56.5 200.5,56.5 200.5,57.5 203.2,57.5 203.2,57.3 198.7,57.3 198.7,61.3 202.4,61.3 202.4,62.3 204.7,62.3 204.7,60.7 206.3,60.7 206.3,60.7 207.8,60.7 207.8,59.6 209.0,59.6 209.0,61.3 212.0,61.3 212.0,60.1 211.0,60.1 211.0,62.7 210.7,62.7 210.7,64.3 210.6,64.3 210.6,65.9 210.5,65.9 210.5,67.5 208.3,67.5 208.3,69.3 212.3,69.3 212.3,70.4 213.3,70.4 213.3,71.1 213.8,71.1 213.8,72.9 213.7,72.9 213.7,74.6 212.3,74.6 212.3,76.3 213.4,76.3 213.4,77.8 213.5,77.8 213.5,79.6 213.5,79.6 213.5,81.6 216.6,81.6 216.6,81.8 217.3,81.8 217.3,83.2 217.6,83.2 217.6,84.9 219.0,84.9 219.0,85.9 218.8,85.9 218.8,88.0 218.9,88.0 218.9,90.0 222.3,90.0 222.3,89.2 223.4,89.2 223.4,90.5 222.7,90.5 222.7,92.9 223.9,92.9 223.9,94.1 221.5,94.1 221.5,96.8 223.4,96.8 223.4,97.8 224.6,97.8 224.6,99.2 228.0,99.2 228.0,99.0 228.2,99.0 228.2,100.9 229.1,100.9 229.1,102.3 228.3,102.3 228.3,104.3 228.5,104.3 228.5,105.9 230.6,105.9 230.6,106.9 229.8,106.9 229.8,108.9 230.5,108.9 230.5,110.4 230.8,110.4 230.8,112.0 232.5,112.0 232.5,113.0 232.4,113.0 232.4,114.8 233.8,114.8 233.8,115.9 234.8,115.9 234.8,117.3 234.4,117.3 234.4,119.2 236.3,119.2 236.3,120.0 237.0,120.0 237.0,121.4 237.8,121.4 237.8,122.8 238.5,122.8 238.5,124.3 238.7,124.3 238.7,126.0 240.5,126.0 240.5,126.9 240.8,126.9 240.8,128.5 241.8,128.5 241.8,129.9 242.8,129.9 242.8,131.2 243.0,131.2 243.0,132.9 244.0,132.9 244.0,134.2 243.5,134.2 243.5,136.1 244.4,136.1 244.4,137.5 245.5,137.5 245.5,138.8 244.9,138.8 244.9,140.7 246.5,140.7 246.5,141.8 246.6,141.8 246.6,143.5 247.1,143.5 247.1,145.1 248.5,145.1 248.5,146.3 249.5,146.3 249.5,147.6 248.6,147.6 248.6,149.7 249.0,149.7 249.0,151.2 250.9,151.2 250.9,152.2 251.5,152.2 251.5,153.7 251.6,153.7 251.6,155.4 251.9,155.4 251.9,157.0 251.8,157.0 251.8,158.7 252.3,158.7 252.3,160.3 252.7,160.3 252.7,161.8 254.4,161.8 254.4,163.0 254.3,163.0 254.3,164.7 255.0,164.7 255.0,166.2 255.8,166.2 255.8,167.6 256.6,167.6 256.6,169.0 256.9,169.0 256.9,170.6 257.1,170.6 257.1,172.2 259.5,172.2 259.5,173.1 258.5,173.1 258.5,175.2 259.2,175.2 259.2,176.6 258.9,176.6 258.9,178.4" fill="none" stroke="#000" stroke-width="2.7" stroke-linejoin="round"/>
<polyline points="258.9,178.4 259.8,178.4 259.8,179.8 260.8,179.8 260.8,181.1 261.0,181.1 261.0,182.8 261.8,182.8 261.8,184.2 262.1,184.2 262.1,185.8 262.5,185.8 262.5,187.5 264.2,187.5 264.2,188.4 264.6,188.4 264.6,190.0 266.0,190.0 266.0,191.0 265.7,191.0 265.7,193.1 267.0,193.1 267.0,194.2 268.5,194.2 268.5,195.2 269.2,195.2 269.2,196.7 270.1,196.7 270.1,198.0 270.9,198.0 270.9,199.4 271.5,199.4 271.5,200.9 271.6,200.9 271.6,202.7 273.0,202.7 273.0,203.7 274.1,203.7 274.1,204.9 274.8,204.9 274.8,206.4 276.0,206.4 276.0,207.5 276.3,207.5 276.3,209.3 278.3,209.3 278.3,209.8 278.9,209.8 278.9,211.3 279.9,211.3 279.9,212.6 280.7,212.6 280.7,214.1 281.3,214.1 281.3,215.6 283.1,215.6 283.1,216.2 284.0,216.2 284.0,217.6 285.3,217.6 285.3,218.6 286.8,218.6 286.8,219.4 287.0,219.4 287.0,221.3 287.7,221.3 287.7,222.9 289.4,222.9 289.4,223.5 290.7,223.5 290.7,224.4 291.5,224.4 291.5,225.9 292.2,225.9 292.2,227.6 293.3,227.6 293.3,228.7 295.1,228.7 295.1,229.1 295.7,229.1 295.7,230.8 297.8,230.8 297.8,230.9 298.4,230.9 298.4,232.6 299.9,232.6 299.9,233.4 300.9,233.4 300.9,234.7 302.3,234.7 302.3,235.6 302.5,235.6 302.5,237.6 304.3,237.6 304.3,238.1 304.6,238.1 304.6,240.1 306.8,240.1 306.8,240.3 307.3,240.3 307.3,242.0 308.2,242.0 308.2,243.3 308.8,243.3 308.8,244.8 310.2,244.8 310.2,245.8 310.8,245.8 310.8,247.3 311.7,247.3 311.7,248.7" fill="none" stroke="#111" stroke-width="1.1" stroke-linejoin="round"/>
<polyline points="203.7,251.0 204.1,251.0 204.1,249.4 205.9,249.4 205.9,248.6 206.4,248.6 206.4,247.0 207.6,247.0 207.6,245.8 207.9,245.8 207.9,244.1 208.8,244.1 208.8,242.8 209.1,242.8 209.1,241.1 210.8,241.1 210.8,240.2 210.4,240.2 210.4,238.2 211.6,238.2 211.6,237.0 212.6,237.0 212.6,235.6 213.1,235.6 213.1,234.1 214.1,234.1 214.1,232.8 215.1,232.8 215.1,231.5 216.4,231.5 216.4,230.5 216.1,230.5 216.1,228.4 217.7,228.4 217.7,227.4 218.6,227.4 218.6,226.2 218.9,226.2 218.9,224.4 219.3,224.4 219.3,222.7 221.8,222.7 221.8,222.4 221.5,222.4 221.5,220.3 222.5,220.3 222.5,219.0 224.3,219.0 224.3,218.3 224.7,218.3 224.7,216.6 225.2,216.6 225.2,215.0 227.2,215.0 227.2,214.2 225.9,214.2 225.9,211.8 227.8,211.8 227.8,210.9 228.0,210.9 228.0,209.2 228.2,209.2 228.2,207.5 229.9,207.5 229.9,206.6 231.1,206.6 231.1,205.4 230.6,205.4 230.6,203.3 232.0,203.3 232.0,202.2 232.2,202.2 232.2,200.5 233.7,200.5 233.7,199.4 234.4,199.4 234.4,198.0 234.2,198.0 234.2,196.1 236.0,196.1 236.0,195.1 236.3,195.1 236.3,193.5 236.8,193.5 236.8,191.9 237.6,191.9 237.6,190.5 237.3,190.5 237.3,188.7 238.5,188.7 238.5,187.4 239.4,187.4 239.4,186.1 238.7,186.1 238.7,184.0 240.8,184.0 240.8,183.2 240.7,183.2 240.7,181.4 241.6,181.4 241.6,180.0 241.7,180.0 241.7,178.3 243.4,178.3 243.4,177.3 243.4,177.3 243.4,175.5 245.2,175.5 245.2,174.5 244.7,174.5 244.7,172.6 245.8,172.6 245.8,171.3 246.1,171.3 246.1,169.7 247.1,169.7 247.1,168.3 247.1,168.3 247.1,166.5 249.1,166.5 249.1,165.7 249.5,165.7 249.5,164.1 250.2,164.1 250.2,162.7 250.5,162.7 250.5,161.0 251.8,161.0 251.8,159.8 251.1,159.8 251.1,157.8 253.0,157.8 253.0,156.7 251.9,156.7 251.9,154.9 253.6,154.9 253.6,153.4 253.0,153.4 253.0,151.7 253.0,151.7 253.0,150.1 253.8,150.1 253.8,148.5 253.5,148.5 253.5,146.9 253.6,146.9 253.6,145.3 252.2,145.3 252.2,143.6 252.9,143.6 252.9,142.0 252.4,142.0 252.4,140.4 252.7,140.4 252.7,138.8 254.1,138.8 254.1,138.4 253.1,138.4 253.1,140.3 254.8,140.3 254.8,141.6 254.7,141.6 254.7,143.3 255.8,143.3 255.8,144.7 254.1,144.7 254.1,146.7 254.2,146.7 254.2,148.6 255.9,148.6 255.9,148.5 256.1,148.5 256.1,146.5 257.5,146.5 257.5,145.6 258.7,145.6 258.7,144.4 258.1,144.4 258.1,142.5 259.4,142.5 259.4,141.1 258.9,141.1 258.9,139.5 259.4,139.5 259.4,137.9 259.7,137.9 259.7,136.3 259.8,136.3 259.8,134.7 259.6,134.7 259.6,133.1 259.7,133.1 259.7,131.5 259.1,131.5 259.1,129.8 259.9,129.8 259.9,128.2 259.5,128.2 259.5,126.5 260.5,126.5 260.5,125.1 261.5,125.1 261.5,123.8 262.8,123.8 262.8,122.7 263.1,122.7 263.1,120.9 263.4,120.9 263.4,119.2 265.2,119.2 265.2,118.5 265.2,118.5 265.2,116.3 267.7,116.3 267.7,116.4 268.3,116.4 268.3,114.8 269.0,114.8 269.0,113.6 268.8,113.6 268.8,112.0 269.3,112.0 269.3,110.4 269.3,110.4 269.3,108.8 269.5,108.8 269.5,107.2 269.9,107.2 269.9,105.6 269.3,105.6 269.3,103.7 270.8,103.7 270.8,102.8 272.6,102.8 272.6,102.8 273.2,102.8 273.2,100.9 274.6,100.9 274.6,100.0 275.4,100.0 275.4,98.5 275.6,98.5 275.6,96.9 274.4,96.9 274.4,94.9 275.4,94.9 275.4,94.7 275.7,94.7 275.7,95.9 277.3,95.9 277.3,97.0 277.5,97.0 277.5,98.7 278.3,98.7 278.3,100.1 278.4,100.1 278.4,100.5 279.5,100.5 279.5,99.5 281.5,99.5 281.5,98.8 281.0,98.8 281.0,96.7 281.8,96.7 281.8,95.4 282.1,95.4 282.1,93.7 283.0,93.7 283.0,92.5 283.0,92.5 283.0,90.9 281.6,90.9 281.6,89.2 282.6,89.2 282.6,87.7 282.8,87.7 282.8,86.1 283.6,86.1 283.6,84.5 283.5,84.5 283.5,82.9 284.2,82.9 284.2,81.3 284.3,81.3 284.3,80.5 284.6,80.5 284.6,82.1 283.3,82.1 283.3,83.8 284.8,83.8 284.8,85.3 285.1,85.3 285.1,86.9 284.9,86.9 284.9,88.6 284.9,88.6 284.9,90.2 285.2,90.2 285.2,91.8 284.7,91.8 284.7,93.4 284.5,93.4 284.5,95.3 286.7,95.3 286.7,96.0 286.9,96.0 286.9,97.7 286.9,97.7 286.9,99.4 286.9,99.4 286.9,101.1 287.1,101.1 287.1,102.7 288.9,102.7 288.9,103.4 290.1,103.4 290.1,104.1 292.0,104.1 292.0,104.0 290.7,104.0 290.7,101.8 292.0,101.8 292.0,100.4 291.4,100.4 291.4,98.7 292.9,98.7 292.9,97.3 293.7,97.3 293.7,95.9 293.4,95.9 293.4,94.1 293.0,94.1 293.0,92.1 294.4,92.1 294.4,90.8 296.2,90.8 296.2,90.4 296.7,90.4 296.7,91.5 298.4,91.5 298.4,92.2 298.7,92.2 298.7,94.2 299.8,94.2 299.8,92.6 301.2,92.6 301.2,92.0 302.2,92.0 302.2,93.7 303.9,93.7 303.9,94.1 304.8,94.1 304.8,95.5 305.2,95.5 305.2,97.3 306.7,97.3 306.7,98.1 307.6,98.1 307.6,99.6 309.2,99.6 309.2,100.1 311.0,100.1 311.0,100.5 313.0,100.5 313.0,100.5 312.1,100.5 312.1,104.6 314.5,104.6 314.5,103.8 315.6,103.8 315.6,105.3 317.9,105.3 317.9,104.3 319.0,104.3 319.0,105.6 320.1,105.6 320.1,107.1 321.7,107.1 321.7,107.5 323.3,107.5 323.3,107.8 323.8,107.8 323.8,109.2 324.0,109.2 324.0,110.9 325.0,110.9 325.0,112.2 325.9,112.2 325.9,113.6 326.6,113.6 326.6,115.1 327.1,115.1 327.1,116.6 328.1,116.6 328.1,117.9" fill="none" stroke="#000" stroke-width="2.7" stroke-linejoin="round"/>
<path d="M38,7.5 V252 M33.5,58 H38 M33.5,123.5 H38 M33.5,188 H38" stroke="#2e2e2e" stroke-width="1.5" fill="none"/>
<path d="M33.5,251.8 H483" stroke="#111" stroke-width="1.8" fill="none"/>
<path d="M38,251 V256 M149.3,251 V256.5 M260.9,251 V256 M372.1,251 V256" stroke="#222" stroke-width="1.1" fill="none"/>
<text x="33.3" y="268.0" font-size="13.5" font-weight="normal" fill="#222" text-anchor="start" textLength="8.6" lengthAdjust="spacingAndGlyphs">10</text>
<text x="41.6" y="263.0" font-size="7.2" font-weight="normal" fill="#222" text-anchor="start" textLength="3.2" lengthAdjust="spacingAndGlyphs">0</text>
<text x="140.3" y="268.0" font-size="13.5" font-weight="normal" fill="#222" text-anchor="start" textLength="8.6" lengthAdjust="spacingAndGlyphs">10</text>
<text x="148.6" y="263.0" font-size="7.2" font-weight="normal" fill="#222" text-anchor="start" textLength="3.2" lengthAdjust="spacingAndGlyphs">1</text>
<text x="254.7" y="268.0" font-size="13.5" font-weight="normal" fill="#222" text-anchor="start" textLength="8.6" lengthAdjust="spacingAndGlyphs">10</text>
<text x="263.0" y="263.0" font-size="7.2" font-weight="normal" fill="#222" text-anchor="start" textLength="3.2" lengthAdjust="spacingAndGlyphs">2</text>
<text x="362.9" y="268.0" font-size="13.5" font-weight="normal" fill="#222" text-anchor="start" textLength="8.6" lengthAdjust="spacingAndGlyphs">10</text>
<text x="371.2" y="263.0" font-size="7.2" font-weight="normal" fill="#222" text-anchor="start" textLength="3.2" lengthAdjust="spacingAndGlyphs">3</text>
<text x="6.6" y="21.0" font-size="25" font-weight="normal" fill="#111" text-anchor="start">a</text>
<text transform="translate(27.2,158.4) rotate(-90)" font-size="15" font-weight="bold" fill="#111" text-anchor="start" textLength="70.4" lengthAdjust="spacingAndGlyphs" stroke="#111" stroke-width="0.35">Events</text>
<text x="102.8" y="52.5" font-size="14.8" font-weight="bold" fill="#111" text-anchor="start" textLength="53.1" lengthAdjust="spacingAndGlyphs" stroke="#111" stroke-width="0.35">Unstained</text>
<text x="237.9" y="52.2" font-size="14.8" font-weight="bold" fill="#111" text-anchor="start" textLength="85.5" lengthAdjust="spacingAndGlyphs" stroke="#111" stroke-width="0.35">V&#947;1V&#948;2 tetramer</text>
<text x="316.4" y="86.0" font-size="14.8" font-weight="bold" fill="#111" text-anchor="start" textLength="65.4" lengthAdjust="spacingAndGlyphs" stroke="#111" stroke-width="0.35">HMBPP 30m</text>
<text x="400.5" y="160.3" font-size="14.8" font-weight="bold" fill="#111" text-anchor="start" textLength="65.5" lengthAdjust="spacingAndGlyphs" stroke="#111" stroke-width="0.35">HMBPP 60m</text>
<text x="64.3" y="143.8" font-size="15.5" font-weight="bold" fill="#111" text-anchor="start" textLength="77.8" lengthAdjust="spacingAndGlyphs" stroke="#111" stroke-width="0.35">Tetramer alone</text>
<text x="158.0" y="293.3" font-size="21" font-weight="bold" fill="#111" text-anchor="start" textLength="159.3" lengthAdjust="spacingAndGlyphs" stroke="#111" stroke-width="0.6">Tetramer fluorescence</text>
<path d="M162.5,49.4 L175.0,49.4" stroke="#000" stroke-width="2.0"/>
<polygon points="182.5,49.4 175.0,53.0 175.0,45.8" fill="#000"/>
<path d="M234.4,57.0 L220.5,62.0" stroke="#000" stroke-width="2.0"/>
<polygon points="213.5,64.6 219.3,58.7 221.8,65.4" fill="#000"/>
<path d="M308.2,80.7 L293.2,80.7" stroke="#000" stroke-width="2.0"/>
<polygon points="285.7,80.7 293.2,77.1 293.2,84.3" fill="#000"/>
<path d="M392.4,155.9 L377.8,155.9" stroke="#000" stroke-width="2.0"/>
<polygon points="370.3,155.9 377.8,152.3 377.8,159.5" fill="#000"/>
<path d="M145.8,148.2 L167.5,174.3" stroke="#000" stroke-width="2.0"/>
<polygon points="172.3,180.1 164.7,176.6 170.3,172.0" fill="#000"/>
<text x="6.5" y="336.6" font-size="25" font-weight="normal" fill="#111" text-anchor="start">b</text>
<path d="M143.5,363.3 V504.5 M85.7,469.7 H238.5" stroke="#333" stroke-width="1.1" fill="none"/>
<path d="M329.8,363.1 V504.7 M271.6,469.6 H424.5" stroke="#333" stroke-width="1.1" fill="none"/>
<path d="M142.8,538.0 V677.2 M86.2,642.6 H237.0" stroke="#333" stroke-width="1.1" fill="none"/>
<path d="M331.8,536.9 V679.0 M274.1,643.5 H426.6" stroke="#333" stroke-width="1.1" fill="none"/>
<path d="M419 450.5h1M199 451.5h1M205 452.5h1M415 452.5h1M222 453.5h1M204 454.5h1M410 454.5h1M196 455.5h1M215 455.5h1M219 455.5h1M391 455.5h2M217 456.5h2M404 456.5h1M198 457.5h1M209 457.5h1M370 457.5h1M401 457.5h1M405 457.5h1M199 458.5h1M202 458.5h1M226 458.5h1M388 458.5h1M391 458.5h1M394 458.5h1M397 458.5h1M401 458.5h1M204 459.5h1M206 459.5h1M211 459.5h1M380 459.5h1M382 459.5h1M391 459.5h1M393 459.5h1M407 459.5h1M220 460.5h1M225 460.5h1M387 460.5h1M397 460.5h1M399 460.5h1M406 460.5h1M197 461.5h1M215 461.5h1M358 461.5h1M367 461.5h1M402 461.5h1M418 461.5h1M209 462.5h1M223 462.5h1M227 462.5h1M354 462.5h2M357 462.5h1M359 462.5h1M361 462.5h1M363 462.5h4M371 462.5h1M373 462.5h2M378 462.5h1M392 462.5h1M395 462.5h1M407 462.5h2M411 462.5h3M417 462.5h1M200 463.5h1M208 463.5h1M210 463.5h1M213 463.5h1M221 463.5h1M227 463.5h1M349 463.5h1M353 463.5h1M358 463.5h2M362 463.5h4M367 463.5h2M370 463.5h1M373 463.5h5M379 463.5h1M381 463.5h1M384 463.5h1M391 463.5h1M402 463.5h1M191 464.5h1M200 464.5h1M209 464.5h2M346 464.5h1M349 464.5h1M352 464.5h1M354 464.5h2M358 464.5h1M360 464.5h1M362 464.5h5M368 464.5h1M370 464.5h4M376 464.5h4M381 464.5h1M383 464.5h1M390 464.5h1M406 464.5h1M412 464.5h1M414 464.5h1M185 465.5h1M188 465.5h1M199 465.5h1M201 465.5h1M206 465.5h1M209 465.5h1M227 465.5h1M347 465.5h1M350 465.5h1M353 465.5h2M357 465.5h3M361 465.5h1M363 465.5h2M366 465.5h7M374 465.5h1M376 465.5h6M383 465.5h1M401 465.5h1M178 466.5h1M197 466.5h3M204 466.5h1M206 466.5h1M209 466.5h2M212 466.5h1M214 466.5h2M228 466.5h1M345 466.5h1M347 466.5h1M352 466.5h1M354 466.5h1M356 466.5h9M367 466.5h1M371 466.5h2M376 466.5h1M378 466.5h3M384 466.5h1M398 466.5h1M178 467.5h1M187 467.5h1M196 467.5h1M200 467.5h1M205 467.5h1M207 467.5h1M211 467.5h1M233 467.5h1M346 467.5h1M352 467.5h7M360 467.5h9M370 467.5h3M374 467.5h6M382 467.5h1M388 467.5h2M394 467.5h1M406 467.5h1M174 468.5h1M183 468.5h1M185 468.5h2M188 468.5h1M192 468.5h2M199 468.5h3M203 468.5h1M206 468.5h1M215 468.5h1M218 468.5h1M222 468.5h1M228 468.5h1M236 468.5h1M352 468.5h1M361 468.5h1M363 468.5h2M368 468.5h3M373 468.5h3M380 468.5h2M384 468.5h1M389 468.5h1M393 468.5h1M396 468.5h1M402 468.5h1M404 468.5h2M407 468.5h1M180 469.5h1M190 469.5h5M198 469.5h3M202 469.5h2M207 469.5h1M212 469.5h4M219 469.5h1M222 469.5h1M224 469.5h1M228 469.5h1M230 469.5h1M360 469.5h2M370 469.5h1M375 469.5h4M380 469.5h2M392 469.5h3M396 469.5h1M398 469.5h1M402 469.5h2M405 469.5h1M409 469.5h1M173 470.5h1M178 470.5h1M180 470.5h1M185 470.5h1M191 470.5h3M197 470.5h4M202 470.5h3M207 470.5h2M210 470.5h1M212 470.5h1M214 470.5h1M217 470.5h2M220 470.5h1M222 470.5h2M227 470.5h4M234 470.5h1M354 470.5h1M356 470.5h1M359 470.5h2M367 470.5h2M370 470.5h10M382 470.5h5M388 470.5h3M392 470.5h2M397 470.5h2M400 470.5h2M403 470.5h1M407 470.5h5M419 470.5h2M177 471.5h1M185 471.5h3M192 471.5h3M196 471.5h1M198 471.5h5M204 471.5h4M209 471.5h2M212 471.5h2M215 471.5h3M219 471.5h3M223 471.5h1M235 471.5h2M343 471.5h1M351 471.5h1M353 471.5h2M356 471.5h2M360 471.5h1M365 471.5h2M369 471.5h2M372 471.5h17M390 471.5h2M395 471.5h1M398 471.5h1M400 471.5h3M404 471.5h2M409 471.5h1M413 471.5h4M419 471.5h1M422 471.5h1M163 472.5h1M179 472.5h1M181 472.5h3M185 472.5h4M190 472.5h2M193 472.5h18M212 472.5h11M224 472.5h2M227 472.5h2M230 472.5h3M237 472.5h1M340 472.5h1M343 472.5h1M347 472.5h1M349 472.5h6M356 472.5h4M361 472.5h4M366 472.5h7M374 472.5h3M378 472.5h5M384 472.5h9M394 472.5h3M398 472.5h2M402 472.5h5M409 472.5h1M412 472.5h5M419 472.5h1M176 473.5h4M183 473.5h3M187 473.5h1M189 473.5h12M202 473.5h16M220 473.5h2M223 473.5h1M225 473.5h6M337 473.5h1M342 473.5h2M345 473.5h3M349 473.5h14M364 473.5h7M372 473.5h1M374 473.5h2M380 473.5h2M383 473.5h1M385 473.5h4M391 473.5h1M393 473.5h2M396 473.5h5M402 473.5h7M412 473.5h2M415 473.5h2M418 473.5h1M420 473.5h2M165 474.5h1M171 474.5h2M174 474.5h1M179 474.5h3M183 474.5h13M197 474.5h22M220 474.5h7M228 474.5h4M336 474.5h1M338 474.5h2M341 474.5h1M344 474.5h7M352 474.5h1M354 474.5h6M363 474.5h6M370 474.5h1M372 474.5h2M375 474.5h8M384 474.5h2M387 474.5h1M389 474.5h2M393 474.5h3M397 474.5h1M399 474.5h1M402 474.5h1M404 474.5h1M407 474.5h8M417 474.5h2M420 474.5h1M422 474.5h1M159 475.5h1M164 475.5h1M167 475.5h2M172 475.5h5M178 475.5h24M203 475.5h2M206 475.5h1M208 475.5h15M224 475.5h6M232 475.5h1M234 475.5h4M334 475.5h1M337 475.5h2M342 475.5h2M348 475.5h2M351 475.5h1M353 475.5h1M355 475.5h4M361 475.5h1M363 475.5h3M367 475.5h1M370 475.5h5M376 475.5h4M381 475.5h4M386 475.5h16M403 475.5h10M414 475.5h1M417 475.5h2M420 475.5h1M423 475.5h1M159 476.5h2M170 476.5h6M177 476.5h5M183 476.5h2M186 476.5h17M204 476.5h3M208 476.5h20M229 476.5h1M231 476.5h5M237 476.5h1M334 476.5h1M336 476.5h1M338 476.5h1M341 476.5h2M346 476.5h3M350 476.5h3M354 476.5h4M360 476.5h1M362 476.5h2M365 476.5h5M372 476.5h4M377 476.5h5M383 476.5h5M389 476.5h2M393 476.5h6M400 476.5h2M403 476.5h7M411 476.5h7M420 476.5h1M164 477.5h1M166 477.5h1M169 477.5h7M177 477.5h15M193 477.5h23M217 477.5h15M233 477.5h3M335 477.5h1M337 477.5h8M346 477.5h3M350 477.5h1M354 477.5h1M356 477.5h11M368 477.5h1M370 477.5h5M376 477.5h1M378 477.5h2M381 477.5h4M386 477.5h8M395 477.5h2M398 477.5h1M400 477.5h2M405 477.5h1M408 477.5h2M413 477.5h1M417 477.5h1M420 477.5h1M159 478.5h1M163 478.5h1M165 478.5h1M168 478.5h4M173 478.5h12M186 478.5h34M221 478.5h5M227 478.5h4M232 478.5h1M234 478.5h2M340 478.5h1M345 478.5h1M348 478.5h2M351 478.5h4M357 478.5h2M360 478.5h4M365 478.5h4M370 478.5h4M376 478.5h6M383 478.5h5M390 478.5h2M394 478.5h1M396 478.5h9M407 478.5h3M411 478.5h2M414 478.5h2M157 479.5h3M161 479.5h2M164 479.5h6M172 479.5h3M176 479.5h35M212 479.5h9M222 479.5h1M224 479.5h4M229 479.5h8M334 479.5h1M336 479.5h1M341 479.5h2M345 479.5h1M347 479.5h1M351 479.5h1M354 479.5h1M357 479.5h1M359 479.5h1M362 479.5h15M378 479.5h12M391 479.5h4M396 479.5h4M402 479.5h1M404 479.5h1M407 479.5h4M154 480.5h3M158 480.5h2M161 480.5h8M170 480.5h3M174 480.5h1M176 480.5h6M183 480.5h18M203 480.5h4M208 480.5h20M229 480.5h4M234 480.5h1M237 480.5h1M345 480.5h1M353 480.5h1M356 480.5h1M359 480.5h1M361 480.5h2M364 480.5h21M386 480.5h1M388 480.5h15M404 480.5h5M410 480.5h1M413 480.5h4M153 481.5h2M156 481.5h1M161 481.5h1M163 481.5h4M168 481.5h6M175 481.5h3M179 481.5h5M185 481.5h20M206 481.5h5M212 481.5h1M214 481.5h5M220 481.5h10M231 481.5h6M337 481.5h1M350 481.5h1M352 481.5h1M355 481.5h7M367 481.5h19M388 481.5h2M391 481.5h12M405 481.5h5M411 481.5h2M414 481.5h1M416 481.5h1M422 481.5h2M152 482.5h1M155 482.5h1M157 482.5h15M173 482.5h7M181 482.5h42M224 482.5h11M237 482.5h1M347 482.5h1M349 482.5h1M354 482.5h3M358 482.5h17M376 482.5h10M387 482.5h19M407 482.5h6M414 482.5h2M418 482.5h1M422 482.5h1M149 483.5h3M154 483.5h1M158 483.5h1M160 483.5h12M173 483.5h15M189 483.5h25M215 483.5h21M237 483.5h1M349 483.5h2M352 483.5h1M354 483.5h1M356 483.5h2M359 483.5h21M381 483.5h12M394 483.5h5M400 483.5h3M404 483.5h1M407 483.5h14M423 483.5h1M150 484.5h1M155 484.5h5M161 484.5h19M181 484.5h7M189 484.5h36M226 484.5h1M228 484.5h2M231 484.5h3M235 484.5h3M339 484.5h1M341 484.5h1M345 484.5h1M349 484.5h14M365 484.5h8M374 484.5h21M396 484.5h1M398 484.5h11M410 484.5h10M421 484.5h3M155 485.5h3M159 485.5h7M167 485.5h12M180 485.5h15M196 485.5h21M218 485.5h16M236 485.5h1M341 485.5h1M345 485.5h1M347 485.5h2M350 485.5h24M375 485.5h10M386 485.5h25M412 485.5h4M417 485.5h1M421 485.5h3M151 486.5h2M154 486.5h1M156 486.5h5M162 486.5h2M165 486.5h16M182 486.5h8M191 486.5h1M193 486.5h40M341 486.5h1M344 486.5h1M347 486.5h21M369 486.5h46M416 486.5h1M419 486.5h1M421 486.5h2M151 487.5h2M154 487.5h1M156 487.5h5M162 487.5h6M169 487.5h14M184 487.5h14M200 487.5h1M202 487.5h10M213 487.5h6M220 487.5h10M231 487.5h1M334 487.5h2M338 487.5h3M342 487.5h1M344 487.5h2M347 487.5h20M368 487.5h2M371 487.5h24M396 487.5h1M398 487.5h15M414 487.5h9M151 488.5h2M154 488.5h2M157 488.5h9M167 488.5h29M197 488.5h20M218 488.5h13M232 488.5h2M235 488.5h1M334 488.5h1M336 488.5h1M339 488.5h3M343 488.5h7M351 488.5h5M358 488.5h2M361 488.5h6M368 488.5h6M375 488.5h24M400 488.5h19M421 488.5h3M148 489.5h1M151 489.5h1M155 489.5h4M160 489.5h35M196 489.5h35M232 489.5h3M334 489.5h1M336 489.5h5M343 489.5h13M357 489.5h17M375 489.5h45M421 489.5h3M151 490.5h2M154 490.5h8M163 490.5h5M169 490.5h2M172 490.5h29M202 490.5h17M220 490.5h2M223 490.5h7M335 490.5h1M337 490.5h2M342 490.5h21M364 490.5h6M371 490.5h2M374 490.5h32M407 490.5h8M417 490.5h6M149 491.5h1M151 491.5h2M154 491.5h1M156 491.5h1M158 491.5h2M161 491.5h6M168 491.5h38M207 491.5h2M210 491.5h19M235 491.5h1M334 491.5h1M336 491.5h2M340 491.5h32M373 491.5h4M378 491.5h18M397 491.5h15M413 491.5h5M419 491.5h2M147 492.5h2M152 492.5h4M157 492.5h4M162 492.5h9M172 492.5h5M178 492.5h39M218 492.5h1M220 492.5h2M223 492.5h1M334 492.5h50M385 492.5h32M419 492.5h2M423 492.5h1M150 493.5h5M156 493.5h4M161 493.5h2M164 493.5h5M170 493.5h6M177 493.5h18M196 493.5h10M207 493.5h13M227 493.5h1M234 493.5h1M335 493.5h1M338 493.5h1M340 493.5h13M354 493.5h27M382 493.5h22M405 493.5h8M414 493.5h2M417 493.5h1M419 493.5h1M148 494.5h2M151 494.5h1M153 494.5h1M155 494.5h4M160 494.5h13M174 494.5h2M177 494.5h7M185 494.5h1M187 494.5h12M200 494.5h7M208 494.5h4M213 494.5h2M216 494.5h3M224 494.5h1M334 494.5h1M338 494.5h2M341 494.5h11M353 494.5h7M361 494.5h10M372 494.5h15M388 494.5h15M404 494.5h13M421 494.5h1M151 495.5h2M157 495.5h3M161 495.5h35M197 495.5h17M217 495.5h2M225 495.5h1M227 495.5h1M334 495.5h8M343 495.5h6M350 495.5h10M361 495.5h4M366 495.5h17M384 495.5h9M394 495.5h8M403 495.5h5M409 495.5h3M413 495.5h4M419 495.5h1M421 495.5h1M423 495.5h1M151 496.5h4M156 496.5h12M169 496.5h5M175 496.5h7M183 496.5h21M205 496.5h6M212 496.5h2M216 496.5h2M219 496.5h1M222 496.5h2M335 496.5h1M337 496.5h5M343 496.5h21M365 496.5h1M367 496.5h31M399 496.5h6M406 496.5h3M410 496.5h1M412 496.5h2M415 496.5h2M419 496.5h2M154 497.5h1M157 497.5h2M160 497.5h1M164 497.5h4M169 497.5h8M178 497.5h8M187 497.5h5M193 497.5h10M204 497.5h7M218 497.5h1M334 497.5h1M339 497.5h1M341 497.5h1M345 497.5h62M408 497.5h1M410 497.5h1M413 497.5h3M152 498.5h1M156 498.5h1M158 498.5h2M161 498.5h1M163 498.5h3M168 498.5h1M171 498.5h1M173 498.5h9M185 498.5h7M193 498.5h2M196 498.5h2M200 498.5h2M203 498.5h4M209 498.5h1M336 498.5h2M341 498.5h2M344 498.5h1M347 498.5h8M356 498.5h2M359 498.5h38M398 498.5h10M411 498.5h1M418 498.5h1M165 499.5h1M167 499.5h1M169 499.5h2M172 499.5h2M175 499.5h1M177 499.5h2M181 499.5h1M183 499.5h2M186 499.5h2M190 499.5h5M197 499.5h1M201 499.5h1M204 499.5h1M208 499.5h1M212 499.5h1M335 499.5h1M341 499.5h1M343 499.5h15M359 499.5h4M364 499.5h10M375 499.5h21M398 499.5h1M405 499.5h1M412 499.5h3M421 499.5h1M153 500.5h2M164 500.5h2M167 500.5h1M170 500.5h2M175 500.5h1M177 500.5h1M179 500.5h5M186 500.5h1M189 500.5h1M191 500.5h2M195 500.5h1M198 500.5h1M200 500.5h1M207 500.5h2M338 500.5h1M341 500.5h1M345 500.5h1M347 500.5h3M351 500.5h31M383 500.5h3M387 500.5h3M391 500.5h2M394 500.5h3M398 500.5h1M400 500.5h3M404 500.5h2M408 500.5h2M416 500.5h1M162 501.5h1M165 501.5h1M170 501.5h1M174 501.5h1M183 501.5h1M186 501.5h1M188 501.5h1M193 501.5h1M195 501.5h1M201 501.5h2M338 501.5h1M347 501.5h1M351 501.5h2M354 501.5h6M361 501.5h2M365 501.5h3M370 501.5h2M373 501.5h1M375 501.5h2M378 501.5h7M386 501.5h2M391 501.5h3M399 501.5h1M403 501.5h1M416 501.5h1M167 502.5h1M172 502.5h2M183 502.5h1M196 502.5h1M334 502.5h1M343 502.5h1M345 502.5h1M348 502.5h3M356 502.5h5M363 502.5h3M368 502.5h1M373 502.5h2M378 502.5h3M383 502.5h1M387 502.5h4M395 502.5h1M405 502.5h1M416 502.5h1M173 503.5h1M188 503.5h1M342 503.5h1M346 503.5h1M351 503.5h2M354 503.5h1M358 503.5h1M361 503.5h1M363 503.5h1M365 503.5h1M368 503.5h1M371 503.5h1M373 503.5h5M382 503.5h3M388 503.5h1M365 504.5h1M391 504.5h1M393 504.5h1M377 586.5h1M390 589.5h1M407 590.5h1M381 591.5h1M385 592.5h1M387 592.5h1M404 592.5h1M364 593.5h1M370 593.5h1M422 594.5h1M376 595.5h1M386 595.5h1M391 595.5h1M379 596.5h1M382 597.5h1M388 597.5h1M399 597.5h1M408 597.5h1M388 598.5h1M396 598.5h1M414 599.5h1M373 600.5h1M399 600.5h1M407 600.5h1M365 601.5h1M381 601.5h1M396 601.5h2M406 601.5h1M377 602.5h1M380 602.5h1M383 602.5h1M387 602.5h1M406 602.5h1M421 602.5h1M215 603.5h1M381 603.5h1M388 603.5h1M392 603.5h1M397 603.5h1M399 603.5h1M405 603.5h1M420 603.5h1M197 604.5h1M204 604.5h1M223 604.5h1M368 604.5h1M372 604.5h2M375 604.5h1M387 604.5h1M391 604.5h1M395 604.5h1M401 604.5h1M420 604.5h1M157 605.5h1M193 605.5h1M377 605.5h1M391 605.5h1M397 605.5h1M405 605.5h1M425 605.5h1M184 606.5h1M204 606.5h1M222 606.5h2M228 606.5h2M367 606.5h1M373 606.5h1M376 606.5h1M392 606.5h1M402 606.5h1M405 606.5h2M409 606.5h1M191 607.5h2M194 607.5h1M199 607.5h1M201 607.5h1M207 607.5h1M212 607.5h2M215 607.5h1M220 607.5h1M228 607.5h1M364 607.5h1M367 607.5h1M369 607.5h1M386 607.5h1M390 607.5h1M392 607.5h2M409 607.5h1M169 608.5h1M178 608.5h1M185 608.5h1M188 608.5h3M198 608.5h2M203 608.5h2M206 608.5h1M209 608.5h1M213 608.5h3M217 608.5h3M228 608.5h2M231 608.5h1M233 608.5h1M374 608.5h1M377 608.5h1M402 608.5h1M172 609.5h1M176 609.5h1M185 609.5h4M199 609.5h5M205 609.5h3M209 609.5h1M217 609.5h2M220 609.5h1M223 609.5h1M228 609.5h1M351 609.5h1M366 609.5h1M368 609.5h1M376 609.5h1M378 609.5h1M381 609.5h1M385 609.5h1M399 609.5h1M401 609.5h1M404 609.5h3M408 609.5h1M418 609.5h1M424 609.5h1M180 610.5h2M183 610.5h2M186 610.5h1M188 610.5h2M191 610.5h1M195 610.5h1M197 610.5h1M202 610.5h2M205 610.5h1M207 610.5h2M212 610.5h1M214 610.5h1M216 610.5h3M220 610.5h1M224 610.5h1M226 610.5h1M232 610.5h1M377 610.5h1M379 610.5h1M381 610.5h1M383 610.5h1M392 610.5h1M416 610.5h1M420 610.5h1M169 611.5h3M173 611.5h1M175 611.5h1M194 611.5h1M197 611.5h1M199 611.5h3M203 611.5h2M206 611.5h1M209 611.5h3M213 611.5h1M215 611.5h2M218 611.5h1M223 611.5h1M225 611.5h3M229 611.5h1M232 611.5h1M234 611.5h1M362 611.5h1M379 611.5h1M382 611.5h1M390 611.5h1M401 611.5h2M406 611.5h2M413 611.5h3M169 612.5h1M174 612.5h1M179 612.5h3M188 612.5h2M192 612.5h2M197 612.5h4M205 612.5h1M207 612.5h4M212 612.5h2M216 612.5h3M220 612.5h1M224 612.5h1M227 612.5h1M358 612.5h1M374 612.5h1M385 612.5h1M387 612.5h3M407 612.5h1M417 612.5h1M155 613.5h1M162 613.5h1M164 613.5h2M170 613.5h1M172 613.5h1M174 613.5h2M178 613.5h2M181 613.5h1M183 613.5h2M187 613.5h2M194 613.5h3M198 613.5h5M204 613.5h1M206 613.5h4M212 613.5h1M214 613.5h4M221 613.5h1M224 613.5h1M226 613.5h1M230 613.5h1M348 613.5h1M365 613.5h1M370 613.5h1M374 613.5h1M376 613.5h1M378 613.5h2M384 613.5h1M386 613.5h1M389 613.5h1M394 613.5h2M400 613.5h1M420 613.5h1M150 614.5h1M160 614.5h2M164 614.5h1M168 614.5h1M172 614.5h2M177 614.5h2M181 614.5h5M187 614.5h2M193 614.5h5M199 614.5h2M203 614.5h1M205 614.5h4M211 614.5h1M213 614.5h2M219 614.5h4M224 614.5h1M227 614.5h2M232 614.5h2M235 614.5h1M362 614.5h1M365 614.5h1M369 614.5h1M376 614.5h1M381 614.5h1M383 614.5h2M386 614.5h1M389 614.5h3M394 614.5h1M408 614.5h1M414 614.5h1M161 615.5h1M165 615.5h2M168 615.5h5M176 615.5h2M179 615.5h2M183 615.5h3M188 615.5h1M192 615.5h1M195 615.5h2M198 615.5h5M206 615.5h2M214 615.5h2M219 615.5h1M229 615.5h1M233 615.5h1M235 615.5h1M347 615.5h1M360 615.5h1M363 615.5h1M367 615.5h1M375 615.5h1M388 615.5h1M391 615.5h2M395 615.5h2M399 615.5h1M401 615.5h1M406 615.5h1M411 615.5h1M152 616.5h1M161 616.5h1M163 616.5h1M165 616.5h2M168 616.5h1M171 616.5h10M184 616.5h2M187 616.5h2M192 616.5h2M195 616.5h5M201 616.5h1M203 616.5h1M209 616.5h2M213 616.5h1M215 616.5h3M223 616.5h2M228 616.5h2M231 616.5h1M350 616.5h1M359 616.5h1M367 616.5h1M369 616.5h1M373 616.5h1M376 616.5h1M382 616.5h1M384 616.5h1M389 616.5h4M395 616.5h1M397 616.5h1M400 616.5h2M409 616.5h1M412 616.5h2M415 616.5h1M420 616.5h1M423 616.5h1M155 617.5h1M158 617.5h1M160 617.5h1M162 617.5h1M165 617.5h1M167 617.5h3M171 617.5h2M176 617.5h1M178 617.5h2M181 617.5h1M183 617.5h1M186 617.5h3M190 617.5h1M193 617.5h1M196 617.5h1M198 617.5h1M200 617.5h6M207 617.5h4M212 617.5h3M216 617.5h1M220 617.5h2M223 617.5h1M226 617.5h1M228 617.5h1M230 617.5h1M234 617.5h1M366 617.5h1M377 617.5h1M380 617.5h1M382 617.5h1M384 617.5h1M388 617.5h1M394 617.5h3M401 617.5h1M416 617.5h1M420 617.5h1M149 618.5h1M156 618.5h1M160 618.5h1M163 618.5h1M165 618.5h1M169 618.5h3M173 618.5h3M177 618.5h3M181 618.5h1M183 618.5h2M186 618.5h1M188 618.5h2M192 618.5h10M203 618.5h2M206 618.5h3M210 618.5h2M213 618.5h1M215 618.5h2M219 618.5h4M228 618.5h1M230 618.5h2M233 618.5h3M347 618.5h1M352 618.5h1M366 618.5h1M372 618.5h1M374 618.5h1M376 618.5h2M398 618.5h1M400 618.5h1M402 618.5h1M406 618.5h1M410 618.5h1M412 618.5h1M414 618.5h1M420 618.5h1M146 619.5h1M148 619.5h1M158 619.5h1M165 619.5h1M167 619.5h4M172 619.5h1M174 619.5h1M176 619.5h1M178 619.5h1M181 619.5h5M187 619.5h5M193 619.5h2M197 619.5h3M201 619.5h4M206 619.5h5M212 619.5h6M221 619.5h1M223 619.5h2M226 619.5h2M230 619.5h1M233 619.5h1M355 619.5h1M357 619.5h1M361 619.5h1M373 619.5h1M378 619.5h1M382 619.5h1M385 619.5h1M388 619.5h1M399 619.5h1M402 619.5h2M410 619.5h1M412 619.5h1M416 619.5h1M149 620.5h1M155 620.5h1M157 620.5h1M159 620.5h1M161 620.5h1M163 620.5h2M168 620.5h1M170 620.5h1M172 620.5h4M177 620.5h1M179 620.5h4M184 620.5h5M191 620.5h16M208 620.5h5M214 620.5h1M216 620.5h2M219 620.5h3M226 620.5h1M229 620.5h1M233 620.5h2M361 620.5h1M373 620.5h1M377 620.5h1M380 620.5h1M386 620.5h2M390 620.5h2M393 620.5h1M403 620.5h2M407 620.5h1M409 620.5h1M412 620.5h1M422 620.5h1M144 621.5h1M148 621.5h1M150 621.5h1M155 621.5h1M157 621.5h1M159 621.5h1M162 621.5h3M167 621.5h1M169 621.5h5M175 621.5h3M180 621.5h3M184 621.5h2M187 621.5h2M190 621.5h14M205 621.5h3M209 621.5h7M217 621.5h4M223 621.5h3M227 621.5h3M231 621.5h1M233 621.5h2M358 621.5h1M362 621.5h2M371 621.5h1M377 621.5h1M379 621.5h1M384 621.5h1M393 621.5h1M395 621.5h1M409 621.5h1M417 621.5h1M420 621.5h1M147 622.5h1M150 622.5h1M152 622.5h2M157 622.5h2M165 622.5h5M171 622.5h2M174 622.5h5M180 622.5h1M182 622.5h2M185 622.5h7M193 622.5h6M200 622.5h4M205 622.5h1M207 622.5h15M226 622.5h6M233 622.5h1M351 622.5h1M358 622.5h1M364 622.5h1M372 622.5h1M377 622.5h1M380 622.5h1M386 622.5h2M391 622.5h1M395 622.5h3M402 622.5h1M413 622.5h1M418 622.5h1M148 623.5h1M154 623.5h1M161 623.5h1M165 623.5h7M173 623.5h2M176 623.5h15M193 623.5h1M195 623.5h7M203 623.5h6M210 623.5h5M216 623.5h4M221 623.5h5M227 623.5h1M357 623.5h1M363 623.5h1M370 623.5h1M381 623.5h1M383 623.5h2M388 623.5h2M396 623.5h1M405 623.5h1M413 623.5h1M419 623.5h1M147 624.5h1M150 624.5h4M155 624.5h3M159 624.5h3M164 624.5h1M166 624.5h6M173 624.5h3M177 624.5h7M186 624.5h1M188 624.5h7M196 624.5h3M200 624.5h8M209 624.5h8M218 624.5h1M222 624.5h4M227 624.5h6M365 624.5h1M368 624.5h1M373 624.5h1M378 624.5h1M381 624.5h1M385 624.5h1M390 624.5h1M396 624.5h1M399 624.5h1M401 624.5h2M405 624.5h1M407 624.5h1M410 624.5h1M420 624.5h1M143 625.5h1M147 625.5h1M152 625.5h1M155 625.5h7M164 625.5h17M182 625.5h16M199 625.5h6M206 625.5h1M209 625.5h7M217 625.5h3M222 625.5h1M225 625.5h1M227 625.5h6M234 625.5h2M364 625.5h1M368 625.5h2M372 625.5h1M374 625.5h1M380 625.5h1M382 625.5h1M385 625.5h4M393 625.5h1M399 625.5h2M406 625.5h1M414 625.5h1M418 625.5h1M424 625.5h1M148 626.5h1M154 626.5h2M157 626.5h2M160 626.5h1M162 626.5h1M164 626.5h1M166 626.5h13M180 626.5h1M182 626.5h10M194 626.5h16M211 626.5h4M216 626.5h11M229 626.5h1M231 626.5h5M350 626.5h1M354 626.5h1M356 626.5h1M361 626.5h1M364 626.5h1M366 626.5h1M369 626.5h1M373 626.5h2M378 626.5h1M380 626.5h1M385 626.5h2M388 626.5h6M395 626.5h1M400 626.5h1M402 626.5h2M411 626.5h1M414 626.5h1M416 626.5h1M418 626.5h1M144 627.5h1M148 627.5h1M153 627.5h1M155 627.5h1M157 627.5h1M159 627.5h6M166 627.5h9M176 627.5h6M183 627.5h9M193 627.5h1M195 627.5h4M200 627.5h18M219 627.5h1M221 627.5h3M225 627.5h3M229 627.5h7M353 627.5h1M365 627.5h2M368 627.5h2M374 627.5h1M377 627.5h1M380 627.5h2M383 627.5h8M394 627.5h4M400 627.5h1M403 627.5h1M405 627.5h2M410 627.5h1M413 627.5h2M421 627.5h1M424 627.5h1M141 628.5h2M150 628.5h2M153 628.5h1M156 628.5h3M161 628.5h7M169 628.5h6M176 628.5h21M198 628.5h8M207 628.5h8M217 628.5h10M228 628.5h2M231 628.5h3M351 628.5h1M353 628.5h1M357 628.5h1M360 628.5h1M363 628.5h5M369 628.5h4M375 628.5h2M378 628.5h1M380 628.5h2M383 628.5h2M386 628.5h3M390 628.5h1M392 628.5h3M396 628.5h3M400 628.5h3M404 628.5h4M409 628.5h1M412 628.5h1M415 628.5h3M423 628.5h3M142 629.5h2M145 629.5h6M152 629.5h3M158 629.5h4M163 629.5h3M167 629.5h9M177 629.5h6M184 629.5h4M189 629.5h1M191 629.5h2M195 629.5h5M201 629.5h3M205 629.5h5M211 629.5h1M213 629.5h6M220 629.5h8M229 629.5h5M235 629.5h1M347 629.5h1M350 629.5h1M358 629.5h1M360 629.5h1M362 629.5h3M366 629.5h1M368 629.5h1M372 629.5h2M376 629.5h5M382 629.5h4M387 629.5h1M389 629.5h4M394 629.5h5M400 629.5h1M405 629.5h2M408 629.5h1M411 629.5h3M415 629.5h2M418 629.5h2M424 629.5h1M141 630.5h1M143 630.5h2M146 630.5h6M153 630.5h3M157 630.5h3M161 630.5h8M171 630.5h5M177 630.5h3M181 630.5h3M185 630.5h2M188 630.5h6M195 630.5h5M201 630.5h1M203 630.5h9M214 630.5h22M347 630.5h1M350 630.5h1M356 630.5h3M360 630.5h4M366 630.5h3M370 630.5h3M374 630.5h3M378 630.5h1M380 630.5h4M385 630.5h2M388 630.5h6M396 630.5h2M399 630.5h1M402 630.5h2M406 630.5h5M412 630.5h1M419 630.5h1M422 630.5h2M425 630.5h1M145 631.5h1M147 631.5h1M149 631.5h4M154 631.5h5M160 631.5h1M162 631.5h1M165 631.5h7M173 631.5h1M175 631.5h5M181 631.5h1M183 631.5h1M185 631.5h3M189 631.5h10M200 631.5h5M207 631.5h1M209 631.5h1M211 631.5h6M218 631.5h7M226 631.5h3M230 631.5h1M233 631.5h3M346 631.5h1M348 631.5h1M351 631.5h1M354 631.5h2M360 631.5h1M363 631.5h3M367 631.5h10M378 631.5h10M389 631.5h4M394 631.5h1M396 631.5h7M404 631.5h4M409 631.5h1M411 631.5h4M417 631.5h1M419 631.5h2M422 631.5h1M140 632.5h2M145 632.5h4M151 632.5h4M156 632.5h3M161 632.5h2M164 632.5h5M170 632.5h5M176 632.5h37M214 632.5h5M222 632.5h9M232 632.5h1M235 632.5h1M350 632.5h1M352 632.5h1M354 632.5h1M357 632.5h3M362 632.5h3M366 632.5h21M388 632.5h6M395 632.5h12M408 632.5h3M412 632.5h4M417 632.5h1M421 632.5h2M424 632.5h2M143 633.5h6M150 633.5h17M169 633.5h7M177 633.5h13M193 633.5h2M196 633.5h8M205 633.5h2M208 633.5h21M230 633.5h6M338 633.5h1M344 633.5h1M349 633.5h4M356 633.5h4M361 633.5h1M363 633.5h10M374 633.5h3M378 633.5h13M392 633.5h4M397 633.5h2M400 633.5h2M403 633.5h7M412 633.5h4M418 633.5h2M422 633.5h2M425 633.5h1M144 634.5h1M146 634.5h1M148 634.5h4M153 634.5h2M156 634.5h1M159 634.5h3M163 634.5h7M171 634.5h2M174 634.5h2M177 634.5h3M181 634.5h13M195 634.5h7M203 634.5h4M208 634.5h10M219 634.5h1M221 634.5h6M228 634.5h1M230 634.5h1M232 634.5h1M234 634.5h2M337 634.5h1M345 634.5h4M352 634.5h6M360 634.5h4M365 634.5h5M371 634.5h7M379 634.5h17M397 634.5h1M399 634.5h8M408 634.5h8M417 634.5h1M420 634.5h3M425 634.5h1M141 635.5h2M144 635.5h6M151 635.5h1M153 635.5h9M164 635.5h3M168 635.5h5M174 635.5h26M201 635.5h10M212 635.5h1M214 635.5h9M224 635.5h2M227 635.5h1M229 635.5h7M339 635.5h1M345 635.5h4M350 635.5h2M353 635.5h1M355 635.5h21M378 635.5h8M387 635.5h2M390 635.5h20M411 635.5h3M416 635.5h8M142 636.5h3M146 636.5h2M149 636.5h3M153 636.5h6M160 636.5h2M163 636.5h5M169 636.5h9M179 636.5h16M196 636.5h13M210 636.5h19M230 636.5h2M233 636.5h2M338 636.5h1M340 636.5h1M345 636.5h2M349 636.5h1M351 636.5h21M373 636.5h4M378 636.5h7M386 636.5h11M398 636.5h2M401 636.5h9M411 636.5h3M415 636.5h4M420 636.5h1M422 636.5h4M142 637.5h13M156 637.5h9M167 637.5h2M170 637.5h1M173 637.5h16M190 637.5h3M194 637.5h12M207 637.5h20M230 637.5h5M337 637.5h2M340 637.5h1M342 637.5h1M344 637.5h1M347 637.5h2M350 637.5h3M354 637.5h7M362 637.5h4M367 637.5h2M370 637.5h3M374 637.5h6M381 637.5h1M383 637.5h4M388 637.5h7M396 637.5h15M412 637.5h3M416 637.5h1M418 637.5h6M425 637.5h1M141 638.5h30M172 638.5h3M176 638.5h2M180 638.5h15M196 638.5h18M215 638.5h3M219 638.5h17M338 638.5h1M343 638.5h1M345 638.5h3M349 638.5h7M357 638.5h5M363 638.5h7M372 638.5h9M382 638.5h4M387 638.5h12M400 638.5h4M405 638.5h19M425 638.5h1M142 639.5h2M145 639.5h33M179 639.5h2M182 639.5h2M185 639.5h1M187 639.5h8M196 639.5h2M200 639.5h1M202 639.5h3M206 639.5h6M213 639.5h4M218 639.5h18M338 639.5h4M344 639.5h2M347 639.5h11M359 639.5h9M369 639.5h11M382 639.5h5M388 639.5h1M390 639.5h3M394 639.5h9M404 639.5h8M413 639.5h1M416 639.5h1M418 639.5h3M422 639.5h4M140 640.5h4M145 640.5h4M150 640.5h1M152 640.5h1M154 640.5h16M171 640.5h4M176 640.5h3M180 640.5h1M182 640.5h17M200 640.5h2M203 640.5h7M211 640.5h12M225 640.5h9M235 640.5h1M341 640.5h4M347 640.5h12M360 640.5h20M381 640.5h25M407 640.5h3M411 640.5h4M416 640.5h10M140 641.5h5M146 641.5h8M156 641.5h10M167 641.5h14M182 641.5h8M191 641.5h4M196 641.5h2M199 641.5h11M211 641.5h19M231 641.5h2M235 641.5h1M339 641.5h3M343 641.5h12M357 641.5h5M363 641.5h17M382 641.5h2M385 641.5h17M403 641.5h1M406 641.5h3M410 641.5h2M413 641.5h1M415 641.5h4M420 641.5h2M424 641.5h2M141 642.5h1M143 642.5h1M145 642.5h11M157 642.5h23M181 642.5h3M185 642.5h2M188 642.5h3M192 642.5h11M204 642.5h23M228 642.5h7M339 642.5h2M342 642.5h1M344 642.5h1M346 642.5h5M352 642.5h3M356 642.5h6M363 642.5h45M409 642.5h5M416 642.5h4M422 642.5h1M424 642.5h1M141 643.5h1M143 643.5h3M147 643.5h2M150 643.5h4M155 643.5h34M190 643.5h5M197 643.5h22M220 643.5h2M224 643.5h2M227 643.5h8M337 643.5h2M342 643.5h1M345 643.5h9M355 643.5h7M363 643.5h13M378 643.5h2M381 643.5h26M409 643.5h1M411 643.5h15M141 644.5h1M143 644.5h1M146 644.5h1M148 644.5h1M150 644.5h20M171 644.5h4M176 644.5h2M179 644.5h17M197 644.5h3M201 644.5h5M207 644.5h17M226 644.5h2M229 644.5h1M231 644.5h1M233 644.5h3M338 644.5h2M343 644.5h12M356 644.5h3M360 644.5h1M362 644.5h19M382 644.5h7M390 644.5h11M402 644.5h10M413 644.5h10M424 644.5h1M141 645.5h2M144 645.5h1M146 645.5h3M150 645.5h22M173 645.5h23M198 645.5h5M205 645.5h18M224 645.5h6M231 645.5h1M233 645.5h2M339 645.5h1M342 645.5h3M346 645.5h7M354 645.5h5M360 645.5h12M373 645.5h6M380 645.5h2M383 645.5h9M393 645.5h23M417 645.5h3M421 645.5h2M424 645.5h2M141 646.5h1M143 646.5h5M150 646.5h17M169 646.5h17M187 646.5h2M190 646.5h26M217 646.5h6M224 646.5h5M232 646.5h3M337 646.5h1M339 646.5h1M341 646.5h5M347 646.5h1M349 646.5h1M351 646.5h3M356 646.5h13M370 646.5h5M376 646.5h9M387 646.5h3M391 646.5h7M399 646.5h2M402 646.5h8M411 646.5h5M418 646.5h4M423 646.5h1M141 647.5h3M145 647.5h4M154 647.5h3M158 647.5h12M171 647.5h1M173 647.5h13M187 647.5h21M209 647.5h12M223 647.5h5M229 647.5h2M235 647.5h1M337 647.5h1M340 647.5h1M342 647.5h2M345 647.5h5M351 647.5h39M391 647.5h21M413 647.5h8M422 647.5h1M424 647.5h1M142 648.5h2M145 648.5h8M154 648.5h4M159 648.5h5M165 648.5h6M172 648.5h1M175 648.5h1M177 648.5h1M180 648.5h25M206 648.5h12M219 648.5h3M223 648.5h1M225 648.5h1M229 648.5h1M232 648.5h1M235 648.5h1M337 648.5h3M342 648.5h1M344 648.5h5M350 648.5h7M358 648.5h13M372 648.5h4M377 648.5h4M382 648.5h22M405 648.5h16M424 648.5h2M141 649.5h9M151 649.5h2M154 649.5h1M156 649.5h6M164 649.5h13M179 649.5h14M194 649.5h10M205 649.5h14M220 649.5h9M231 649.5h1M233 649.5h2M337 649.5h5M343 649.5h1M345 649.5h3M349 649.5h7M357 649.5h19M377 649.5h33M411 649.5h8M420 649.5h2M424 649.5h1M141 650.5h1M143 650.5h12M156 650.5h2M159 650.5h8M169 650.5h1M172 650.5h8M181 650.5h10M192 650.5h7M200 650.5h9M210 650.5h1M213 650.5h2M219 650.5h2M222 650.5h1M226 650.5h1M230 650.5h2M337 650.5h1M340 650.5h7M348 650.5h5M354 650.5h16M371 650.5h5M377 650.5h17M395 650.5h18M414 650.5h2M417 650.5h4M422 650.5h1M424 650.5h1M143 651.5h1M146 651.5h1M149 651.5h4M154 651.5h5M160 651.5h3M164 651.5h15M180 651.5h4M185 651.5h8M194 651.5h4M199 651.5h9M209 651.5h2M212 651.5h2M215 651.5h2M218 651.5h4M224 651.5h2M227 651.5h2M235 651.5h1M337 651.5h1M339 651.5h4M346 651.5h4M351 651.5h8M360 651.5h20M381 651.5h3M385 651.5h5M391 651.5h5M398 651.5h13M412 651.5h1M414 651.5h3M418 651.5h6M425 651.5h1M144 652.5h3M150 652.5h5M156 652.5h6M163 652.5h3M168 652.5h1M170 652.5h1M172 652.5h4M177 652.5h3M181 652.5h16M198 652.5h1M200 652.5h1M202 652.5h5M209 652.5h6M216 652.5h1M218 652.5h1M221 652.5h1M223 652.5h1M228 652.5h1M232 652.5h1M235 652.5h1M340 652.5h1M342 652.5h6M349 652.5h4M354 652.5h1M356 652.5h14M371 652.5h5M377 652.5h17M395 652.5h1M397 652.5h5M403 652.5h10M414 652.5h2M417 652.5h2M142 653.5h5M148 653.5h3M152 653.5h2M156 653.5h1M158 653.5h9M169 653.5h4M174 653.5h1M178 653.5h8M187 653.5h8M196 653.5h5M202 653.5h1M204 653.5h6M211 653.5h3M216 653.5h2M219 653.5h1M224 653.5h2M228 653.5h1M233 653.5h1M235 653.5h1M337 653.5h1M340 653.5h4M345 653.5h4M350 653.5h1M352 653.5h1M354 653.5h6M361 653.5h9M371 653.5h13M385 653.5h6M392 653.5h4M397 653.5h1M399 653.5h9M409 653.5h1M412 653.5h3M417 653.5h1M419 653.5h2M139 654.5h1M142 654.5h1M152 654.5h15M168 654.5h4M173 654.5h7M181 654.5h13M195 654.5h7M204 654.5h4M210 654.5h2M213 654.5h1M215 654.5h1M217 654.5h2M221 654.5h1M227 654.5h1M338 654.5h1M341 654.5h5M347 654.5h1M349 654.5h2M352 654.5h5M358 654.5h5M364 654.5h8M374 654.5h5M380 654.5h3M384 654.5h9M394 654.5h10M405 654.5h2M412 654.5h2M415 654.5h1M418 654.5h1M420 654.5h1M142 655.5h2M151 655.5h1M153 655.5h1M155 655.5h5M163 655.5h5M169 655.5h1M171 655.5h5M178 655.5h1M180 655.5h2M184 655.5h8M193 655.5h2M200 655.5h1M203 655.5h2M206 655.5h1M208 655.5h3M213 655.5h4M224 655.5h2M337 655.5h1M343 655.5h2M348 655.5h7M356 655.5h1M358 655.5h4M363 655.5h5M369 655.5h1M371 655.5h10M382 655.5h7M390 655.5h2M393 655.5h5M400 655.5h2M403 655.5h2M407 655.5h1M409 655.5h1M413 655.5h4M419 655.5h1M423 655.5h3M145 656.5h2M149 656.5h2M155 656.5h1M157 656.5h2M160 656.5h10M171 656.5h5M177 656.5h4M182 656.5h12M195 656.5h5M203 656.5h2M208 656.5h1M211 656.5h1M217 656.5h1M225 656.5h1M227 656.5h2M342 656.5h5M348 656.5h6M355 656.5h6M362 656.5h3M367 656.5h4M372 656.5h2M375 656.5h1M378 656.5h1M380 656.5h4M385 656.5h2M390 656.5h14M405 656.5h2M412 656.5h1M416 656.5h2M419 656.5h1M422 656.5h1M140 657.5h1M144 657.5h1M150 657.5h1M152 657.5h1M154 657.5h2M164 657.5h1M167 657.5h2M173 657.5h2M176 657.5h4M181 657.5h1M183 657.5h1M185 657.5h3M190 657.5h3M197 657.5h3M202 657.5h2M213 657.5h1M217 657.5h1M219 657.5h1M222 657.5h1M226 657.5h1M344 657.5h4M349 657.5h1M354 657.5h5M360 657.5h1M362 657.5h3M366 657.5h8M375 657.5h3M379 657.5h1M381 657.5h1M383 657.5h1M385 657.5h9M395 657.5h2M400 657.5h2M404 657.5h3M408 657.5h2M411 657.5h1M413 657.5h2M417 657.5h1M425 657.5h1M147 658.5h1M156 658.5h1M163 658.5h1M170 658.5h3M180 658.5h1M183 658.5h1M186 658.5h1M189 658.5h1M194 658.5h1M196 658.5h1M198 658.5h1M203 658.5h2M213 658.5h1M338 658.5h1M344 658.5h1M348 658.5h1M350 658.5h1M352 658.5h14M367 658.5h3M371 658.5h1M373 658.5h3M377 658.5h1M380 658.5h1M382 658.5h5M388 658.5h8M398 658.5h2M401 658.5h2M405 658.5h2M411 658.5h2M421 658.5h1M152 659.5h1M155 659.5h1M157 659.5h1M161 659.5h1M169 659.5h1M171 659.5h1M175 659.5h1M179 659.5h1M187 659.5h2M190 659.5h2M197 659.5h2M202 659.5h1M207 659.5h2M213 659.5h1M217 659.5h1M340 659.5h1M343 659.5h3M355 659.5h1M357 659.5h1M360 659.5h3M365 659.5h2M370 659.5h3M375 659.5h1M377 659.5h4M382 659.5h4M387 659.5h2M391 659.5h2M395 659.5h1M397 659.5h1M399 659.5h3M404 659.5h2M413 659.5h1M168 660.5h1M171 660.5h1M176 660.5h1M183 660.5h1M192 660.5h1M198 660.5h1M209 660.5h1M339 660.5h1M349 660.5h1M354 660.5h1M357 660.5h4M363 660.5h1M366 660.5h2M369 660.5h6M376 660.5h1M379 660.5h1M381 660.5h7M389 660.5h1M393 660.5h1M398 660.5h1M400 660.5h1M402 660.5h1M404 660.5h1M143 661.5h1M172 661.5h1M186 661.5h1M192 661.5h2M203 661.5h1M219 661.5h1M354 661.5h3M360 661.5h1M368 661.5h1M370 661.5h1M373 661.5h1M375 661.5h1M377 661.5h3M382 661.5h1M384 661.5h1M392 661.5h2M395 661.5h1M397 661.5h2M404 661.5h1M420 661.5h1M151 662.5h2M192 662.5h1M195 662.5h1M197 662.5h1M217 662.5h1M350 662.5h1M355 662.5h1M373 662.5h1M377 662.5h1M379 662.5h1M383 662.5h1M385 662.5h1M400 662.5h1M402 662.5h1M404 662.5h1M408 662.5h1M423 662.5h1M162 663.5h1M199 663.5h1M225 663.5h1M359 663.5h1M368 663.5h1M372 663.5h1M376 663.5h1M383 663.5h1M393 663.5h1M401 663.5h1M404 663.5h1M417 663.5h1M175 664.5h1M191 664.5h2M360 664.5h3M365 664.5h1M380 664.5h1M395 664.5h1M397 664.5h1M403 664.5h2M408 664.5h1M149 665.5h1M178 665.5h1M186 665.5h1M214 665.5h1M354 665.5h1M357 665.5h1M372 665.5h1M375 665.5h1M379 665.5h1M390 665.5h1M401 665.5h1M194 666.5h1M216 666.5h1M356 666.5h1M369 666.5h1M158 667.5h1M165 667.5h1M179 667.5h1M181 667.5h1M193 667.5h1M230 667.5h2M352 667.5h1M374 667.5h1M382 667.5h1M400 667.5h1M199 668.5h1M338 668.5h1M385 668.5h1M425 668.5h1M193 669.5h1M218 669.5h1M353 669.5h2M376 669.5h1M391 669.5h1M393 669.5h1M416 669.5h1M185 670.5h1M375 670.5h1M402 670.5h1M369 671.5h1M390 671.5h1M217 672.5h1M224 673.5h1M406 674.5h1M415 677.5h1" stroke="#141414" stroke-width="1" fill="none"/><radialGradient id="c1"><stop offset="0" stop-color="#a0a0a0" stop-opacity="1"/><stop offset="0.5" stop-color="#6a6a6a" stop-opacity="0.8"/><stop offset="1" stop-color="#111" stop-opacity="0"/></radialGradient><ellipse cx="192" cy="485" rx="22" ry="6" transform="rotate(-7 192 485)" fill="url(#c1)"/><radialGradient id="c2"><stop offset="0" stop-color="#606060" stop-opacity="1"/><stop offset="0.45" stop-color="#a0a0a0" stop-opacity="0.9"/><stop offset="1" stop-color="#111" stop-opacity="0"/></radialGradient><ellipse cx="372" cy="491" rx="30" ry="7" transform="rotate(-3 372 491)" fill="url(#c2)"/><radialGradient id="c3"><stop offset="0" stop-color="#858585" stop-opacity="1"/><stop offset="0.5" stop-color="#4a4a4a" stop-opacity="0.8"/><stop offset="1" stop-color="#111" stop-opacity="0"/></radialGradient><ellipse cx="190" cy="647" rx="24" ry="8" transform="rotate(-4 190 647)" fill="url(#c3)"/><radialGradient id="c4"><stop offset="0" stop-color="#858585" stop-opacity="1"/><stop offset="0.5" stop-color="#4a4a4a" stop-opacity="0.8"/><stop offset="1" stop-color="#111" stop-opacity="0"/></radialGradient><ellipse cx="373" cy="648" rx="20" ry="6" transform="rotate(-4 373 648)" fill="url(#c4)"/>
<rect x="85.7" y="363.3" width="152.8" height="141.2" fill="none" stroke="#2a2a2a" stroke-width="1.4"/>
<text x="62.6" y="366.7" font-size="10.4" font-weight="bold" fill="#222" text-anchor="start" textLength="10.5" lengthAdjust="spacingAndGlyphs">10</text>
<text x="74.3" y="364.5" font-size="7.2" font-weight="bold" fill="#222" text-anchor="start" textLength="4.0" lengthAdjust="spacingAndGlyphs">4</text>
<text x="62.6" y="402.0" font-size="10.4" font-weight="bold" fill="#222" text-anchor="start" textLength="10.5" lengthAdjust="spacingAndGlyphs">10</text>
<text x="74.3" y="399.8" font-size="7.2" font-weight="bold" fill="#222" text-anchor="start" textLength="4.0" lengthAdjust="spacingAndGlyphs">3</text>
<text x="62.6" y="437.3" font-size="10.4" font-weight="bold" fill="#222" text-anchor="start" textLength="10.5" lengthAdjust="spacingAndGlyphs">10</text>
<text x="74.3" y="435.1" font-size="7.2" font-weight="bold" fill="#222" text-anchor="start" textLength="4.0" lengthAdjust="spacingAndGlyphs">2</text>
<text x="62.6" y="472.6" font-size="10.4" font-weight="bold" fill="#222" text-anchor="start" textLength="10.5" lengthAdjust="spacingAndGlyphs">10</text>
<text x="74.3" y="470.4" font-size="7.2" font-weight="bold" fill="#222" text-anchor="start" textLength="4.0" lengthAdjust="spacingAndGlyphs">1</text>
<text x="62.6" y="507.9" font-size="10.4" font-weight="bold" fill="#222" text-anchor="start" textLength="10.5" lengthAdjust="spacingAndGlyphs">10</text>
<text x="74.3" y="505.7" font-size="7.2" font-weight="bold" fill="#222" text-anchor="start" textLength="4.0" lengthAdjust="spacingAndGlyphs">0</text>
<text x="84.5" y="519.5" font-size="10" font-weight="bold" fill="#2a2a2a" text-anchor="middle" textLength="5.6" lengthAdjust="spacingAndGlyphs">0</text>
<text x="122.7" y="519.5" font-size="10" font-weight="bold" fill="#2a2a2a" text-anchor="middle" textLength="11.8" lengthAdjust="spacingAndGlyphs">64</text>
<text x="160.9" y="519.5" font-size="10" font-weight="bold" fill="#2a2a2a" text-anchor="middle" textLength="18.0" lengthAdjust="spacingAndGlyphs">128</text>
<text x="199.1" y="519.5" font-size="10" font-weight="bold" fill="#2a2a2a" text-anchor="middle" textLength="18.0" lengthAdjust="spacingAndGlyphs">192</text>
<text x="237.3" y="519.5" font-size="10" font-weight="bold" fill="#2a2a2a" text-anchor="middle" textLength="18.0" lengthAdjust="spacingAndGlyphs">256</text>
<path d="M80.2,363.3 H85.7 M80.2,398.6 H85.7 M80.2,433.9 H85.7 M80.2,469.2 H85.7 M80.2,504.5 H85.7 M85.7,504.5 V509.0 M123.9,504.5 V509.0 M162.1,504.5 V509.0 M200.3,504.5 V509.0 M238.5,504.5 V509.0 " stroke="#333" stroke-width="1.1" fill="none"/>
<rect x="271.6" y="363.1" width="152.9" height="141.6" fill="none" stroke="#2a2a2a" stroke-width="1.4"/>
<text x="249.3" y="366.5" font-size="10.4" font-weight="bold" fill="#222" text-anchor="start" textLength="10.5" lengthAdjust="spacingAndGlyphs">10</text>
<text x="260.3" y="364.3" font-size="7.2" font-weight="bold" fill="#222" text-anchor="start" textLength="4.0" lengthAdjust="spacingAndGlyphs">4</text>
<text x="249.3" y="401.9" font-size="10.4" font-weight="bold" fill="#222" text-anchor="start" textLength="10.5" lengthAdjust="spacingAndGlyphs">10</text>
<text x="260.3" y="399.7" font-size="7.2" font-weight="bold" fill="#222" text-anchor="start" textLength="4.0" lengthAdjust="spacingAndGlyphs">3</text>
<text x="249.3" y="437.3" font-size="10.4" font-weight="bold" fill="#222" text-anchor="start" textLength="10.5" lengthAdjust="spacingAndGlyphs">10</text>
<text x="260.3" y="435.1" font-size="7.2" font-weight="bold" fill="#222" text-anchor="start" textLength="4.0" lengthAdjust="spacingAndGlyphs">2</text>
<text x="249.3" y="472.7" font-size="10.4" font-weight="bold" fill="#222" text-anchor="start" textLength="10.5" lengthAdjust="spacingAndGlyphs">10</text>
<text x="260.3" y="470.5" font-size="7.2" font-weight="bold" fill="#222" text-anchor="start" textLength="4.0" lengthAdjust="spacingAndGlyphs">1</text>
<text x="249.3" y="508.1" font-size="10.4" font-weight="bold" fill="#222" text-anchor="start" textLength="10.5" lengthAdjust="spacingAndGlyphs">10</text>
<text x="260.3" y="505.9" font-size="7.2" font-weight="bold" fill="#222" text-anchor="start" textLength="4.0" lengthAdjust="spacingAndGlyphs">0</text>
<text x="270.4" y="519.7" font-size="10" font-weight="bold" fill="#2a2a2a" text-anchor="middle" textLength="5.6" lengthAdjust="spacingAndGlyphs">0</text>
<text x="308.6" y="519.7" font-size="10" font-weight="bold" fill="#2a2a2a" text-anchor="middle" textLength="11.8" lengthAdjust="spacingAndGlyphs">64</text>
<text x="346.9" y="519.7" font-size="10" font-weight="bold" fill="#2a2a2a" text-anchor="middle" textLength="18.0" lengthAdjust="spacingAndGlyphs">128</text>
<text x="385.1" y="519.7" font-size="10" font-weight="bold" fill="#2a2a2a" text-anchor="middle" textLength="18.0" lengthAdjust="spacingAndGlyphs">192</text>
<text x="423.3" y="519.7" font-size="10" font-weight="bold" fill="#2a2a2a" text-anchor="middle" textLength="18.0" lengthAdjust="spacingAndGlyphs">256</text>
<path d="M266.1,363.1 H271.6 M266.1,398.5 H271.6 M266.1,433.9 H271.6 M266.1,469.3 H271.6 M266.1,504.7 H271.6 M271.6,504.7 V509.2 M309.8,504.7 V509.2 M348.1,504.7 V509.2 M386.3,504.7 V509.2 M424.5,504.7 V509.2 " stroke="#333" stroke-width="1.1" fill="none"/>
<rect x="86.2" y="538.0" width="150.8" height="139.2" fill="none" stroke="#2a2a2a" stroke-width="1.4"/>
<text x="65.4" y="541.4" font-size="10.4" font-weight="bold" fill="#222" text-anchor="start" textLength="10.5" lengthAdjust="spacingAndGlyphs">10</text>
<text x="75.6" y="539.2" font-size="7.2" font-weight="bold" fill="#222" text-anchor="start" textLength="4.0" lengthAdjust="spacingAndGlyphs">4</text>
<text x="65.4" y="576.2" font-size="10.4" font-weight="bold" fill="#222" text-anchor="start" textLength="10.5" lengthAdjust="spacingAndGlyphs">10</text>
<text x="75.6" y="574.0" font-size="7.2" font-weight="bold" fill="#222" text-anchor="start" textLength="4.0" lengthAdjust="spacingAndGlyphs">3</text>
<text x="65.4" y="611.0" font-size="10.4" font-weight="bold" fill="#222" text-anchor="start" textLength="10.5" lengthAdjust="spacingAndGlyphs">10</text>
<text x="75.6" y="608.8" font-size="7.2" font-weight="bold" fill="#222" text-anchor="start" textLength="4.0" lengthAdjust="spacingAndGlyphs">2</text>
<text x="65.4" y="645.8" font-size="10.4" font-weight="bold" fill="#222" text-anchor="start" textLength="10.5" lengthAdjust="spacingAndGlyphs">10</text>
<text x="75.6" y="643.6" font-size="7.2" font-weight="bold" fill="#222" text-anchor="start" textLength="4.0" lengthAdjust="spacingAndGlyphs">1</text>
<text x="65.4" y="680.6" font-size="10.4" font-weight="bold" fill="#222" text-anchor="start" textLength="10.5" lengthAdjust="spacingAndGlyphs">10</text>
<text x="75.6" y="678.4" font-size="7.2" font-weight="bold" fill="#222" text-anchor="start" textLength="4.0" lengthAdjust="spacingAndGlyphs">0</text>
<text x="85.0" y="692.2" font-size="10" font-weight="bold" fill="#2a2a2a" text-anchor="middle" textLength="5.6" lengthAdjust="spacingAndGlyphs">0</text>
<text x="122.7" y="692.2" font-size="10" font-weight="bold" fill="#2a2a2a" text-anchor="middle" textLength="11.8" lengthAdjust="spacingAndGlyphs">64</text>
<text x="160.4" y="692.2" font-size="10" font-weight="bold" fill="#2a2a2a" text-anchor="middle" textLength="18.0" lengthAdjust="spacingAndGlyphs">128</text>
<text x="198.1" y="692.2" font-size="10" font-weight="bold" fill="#2a2a2a" text-anchor="middle" textLength="18.0" lengthAdjust="spacingAndGlyphs">192</text>
<text x="235.8" y="692.2" font-size="10" font-weight="bold" fill="#2a2a2a" text-anchor="middle" textLength="18.0" lengthAdjust="spacingAndGlyphs">256</text>
<path d="M80.7,538.0 H86.2 M80.7,572.8 H86.2 M80.7,607.6 H86.2 M80.7,642.4 H86.2 M80.7,677.2 H86.2 M86.2,677.2 V681.7 M123.9,677.2 V681.7 M161.6,677.2 V681.7 M199.3,677.2 V681.7 M237.0,677.2 V681.7 " stroke="#333" stroke-width="1.1" fill="none"/>
<rect x="274.1" y="536.9" width="152.5" height="142.1" fill="none" stroke="#2a2a2a" stroke-width="1.4"/>
<text x="250.4" y="540.3" font-size="10.4" font-weight="bold" fill="#222" text-anchor="start" textLength="10.5" lengthAdjust="spacingAndGlyphs">10</text>
<text x="261.4" y="538.1" font-size="7.2" font-weight="bold" fill="#222" text-anchor="start" textLength="4.0" lengthAdjust="spacingAndGlyphs">4</text>
<text x="250.4" y="575.8" font-size="10.4" font-weight="bold" fill="#222" text-anchor="start" textLength="10.5" lengthAdjust="spacingAndGlyphs">10</text>
<text x="261.4" y="573.6" font-size="7.2" font-weight="bold" fill="#222" text-anchor="start" textLength="4.0" lengthAdjust="spacingAndGlyphs">3</text>
<text x="250.4" y="611.4" font-size="10.4" font-weight="bold" fill="#222" text-anchor="start" textLength="10.5" lengthAdjust="spacingAndGlyphs">10</text>
<text x="261.4" y="609.2" font-size="7.2" font-weight="bold" fill="#222" text-anchor="start" textLength="4.0" lengthAdjust="spacingAndGlyphs">2</text>
<text x="250.4" y="646.9" font-size="10.4" font-weight="bold" fill="#222" text-anchor="start" textLength="10.5" lengthAdjust="spacingAndGlyphs">10</text>
<text x="261.4" y="644.7" font-size="7.2" font-weight="bold" fill="#222" text-anchor="start" textLength="4.0" lengthAdjust="spacingAndGlyphs">1</text>
<text x="250.4" y="682.4" font-size="10.4" font-weight="bold" fill="#222" text-anchor="start" textLength="10.5" lengthAdjust="spacingAndGlyphs">10</text>
<text x="261.4" y="680.2" font-size="7.2" font-weight="bold" fill="#222" text-anchor="start" textLength="4.0" lengthAdjust="spacingAndGlyphs">0</text>
<text x="272.9" y="694.0" font-size="10" font-weight="bold" fill="#2a2a2a" text-anchor="middle" textLength="5.6" lengthAdjust="spacingAndGlyphs">0</text>
<text x="311.0" y="694.0" font-size="10" font-weight="bold" fill="#2a2a2a" text-anchor="middle" textLength="11.8" lengthAdjust="spacingAndGlyphs">64</text>
<text x="349.2" y="694.0" font-size="10" font-weight="bold" fill="#2a2a2a" text-anchor="middle" textLength="18.0" lengthAdjust="spacingAndGlyphs">128</text>
<text x="387.3" y="694.0" font-size="10" font-weight="bold" fill="#2a2a2a" text-anchor="middle" textLength="18.0" lengthAdjust="spacingAndGlyphs">192</text>
<text x="425.4" y="694.0" font-size="10" font-weight="bold" fill="#2a2a2a" text-anchor="middle" textLength="18.0" lengthAdjust="spacingAndGlyphs">256</text>
<path d="M268.6,536.9 H274.1 M268.6,572.4 H274.1 M268.6,608.0 H274.1 M268.6,643.5 H274.1 M268.6,679.0 H274.1 M274.1,679.0 V683.5 M312.2,679.0 V683.5 M350.4,679.0 V683.5 M388.5,679.0 V683.5 M426.6,679.0 V683.5 " stroke="#333" stroke-width="1.1" fill="none"/>
<text x="126.2" y="357.5" font-size="19.8" font-weight="bold" fill="#111" text-anchor="start" textLength="52.8" lengthAdjust="spacingAndGlyphs" stroke="#111" stroke-width="0.5">V&#947;2V&#948;2</text>
<text x="282.3" y="357.5" font-size="19.8" font-weight="bold" fill="#111" text-anchor="start" textLength="125.8" lengthAdjust="spacingAndGlyphs" stroke="#111" stroke-width="0.5">(V&#947;2V&#948;2+HMBPP)</text>
<text x="202.6" y="384.5" font-size="16.8" font-weight="bold" fill="#111" text-anchor="start" textLength="21.9" lengthAdjust="spacingAndGlyphs" stroke="#111" stroke-width="0.35">0.68</text>
<text x="393.9" y="384.7" font-size="16.8" font-weight="bold" fill="#111" text-anchor="start" textLength="20.3" lengthAdjust="spacingAndGlyphs" stroke="#111" stroke-width="0.35">0.87</text>
<text x="197.1" y="558.6" font-size="16.8" font-weight="bold" fill="#111" text-anchor="start" textLength="28.9" lengthAdjust="spacingAndGlyphs" stroke="#111" stroke-width="0.35">38.16</text>
<text x="394.0" y="558.6" font-size="16.8" font-weight="bold" fill="#111" text-anchor="start" textLength="27.5" lengthAdjust="spacingAndGlyphs" stroke="#111" stroke-width="0.35">33.35</text>
<text transform="translate(452.8,477.4) rotate(-90)" font-size="12.6" font-weight="bold" fill="#111" text-anchor="start" textLength="116.6" lengthAdjust="spacingAndGlyphs" stroke="#111" stroke-width="0.35">Untreated cells</text>
<text transform="translate(453.6,681.7) rotate(-90)" font-size="12.6" font-weight="bold" fill="#111" text-anchor="start" textLength="159.5" lengthAdjust="spacingAndGlyphs" stroke="#111" stroke-width="0.35">HMBPP-pulsed cells</text>
<text transform="translate(42.0,553.2) rotate(-90)" font-size="13.5" font-weight="bold" fill="#111" text-anchor="start" textLength="202.9" lengthAdjust="spacingAndGlyphs" stroke="#111" stroke-width="0.35">Tetramer fluorescence</text>
<text x="198.6" y="739.3" font-size="20.5" font-weight="bold" fill="#111" text-anchor="start" textLength="99.4" lengthAdjust="spacingAndGlyphs" stroke="#111" stroke-width="0.6">Monocytes SC</text>
<text x="378.8" y="722.8" font-size="20" font-weight="bold" fill="#111" text-anchor="start" textLength="36.2" lengthAdjust="spacingAndGlyphs" stroke="#111" stroke-width="0.6">CD14</text>
<path d="M39,579 V712.8 H371" stroke="#000" stroke-width="2" fill="none"/>
<polygon points="39,572.2 36.3,579.8 41.7,579.8" fill="#000"/>
<polygon points="376.5,712.8 369,709.6 369,716" fill="#000"/>
</svg></body></html>
